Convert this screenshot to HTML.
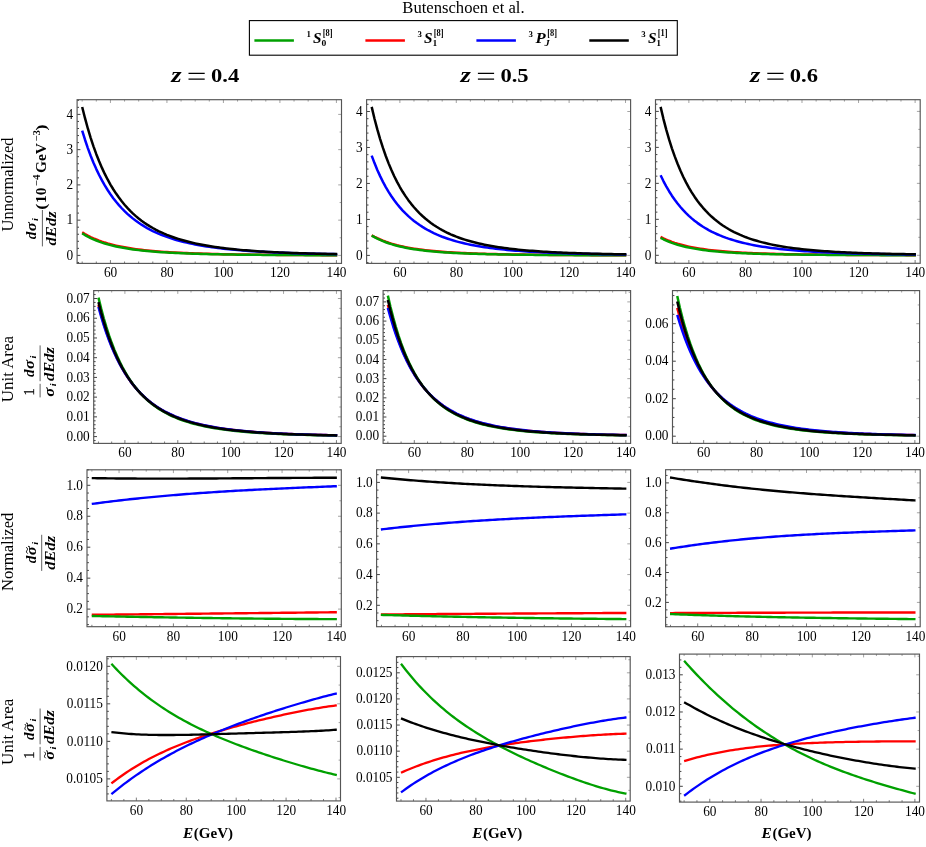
<!DOCTYPE html>
<html><head><meta charset="utf-8"><title>chart</title>
<style>html,body{margin:0;padding:0;background:#fff}svg{display:block;will-change:transform}text{font-family:"Liberation Serif", serif;fill:#000}</style></head><body>
<svg width="926" height="847" viewBox="0 0 926 847">
<rect width="926" height="847" fill="#fff"/>
<g><path d="M82.18 232.27 L85.01 234.00 L87.83 235.57 L90.66 237.01 L93.48 238.32 L96.31 239.52 L99.13 240.62 L101.96 241.64 L104.78 242.57 L107.61 243.43 L110.43 244.21 L113.26 244.94 L116.08 245.62 L118.91 246.24 L121.73 246.81 L124.56 247.35 L127.38 247.84 L130.21 248.30 L133.03 248.73 L135.86 249.13 L138.68 249.50 L141.51 249.84 L144.33 250.16 L147.15 250.46 L149.98 250.74 L152.80 251.00 L155.63 251.24 L158.45 251.47 L161.28 251.69 L164.10 251.89 L166.93 252.08 L169.75 252.25 L172.58 252.42 L175.40 252.57 L178.23 252.72 L181.05 252.86 L183.88 252.99 L186.70 253.11 L189.53 253.22 L192.35 253.33 L195.18 253.43 L198.00 253.53 L200.83 253.62 L203.65 253.71 L206.48 253.79 L209.30 253.87 L212.12 253.94 L214.95 254.01 L217.77 254.07 L220.60 254.13 L223.42 254.19 L226.25 254.25 L229.07 254.30 L231.90 254.35 L234.72 254.40 L237.55 254.44 L240.37 254.48 L243.20 254.52 L246.02 254.56 L248.85 254.60 L251.67 254.63 L254.50 254.67 L257.32 254.70 L260.15 254.73 L262.97 254.76 L265.80 254.78 L268.62 254.81 L271.45 254.83 L274.27 254.86 L277.09 254.88 L279.92 254.90 L282.74 254.92 L285.57 254.94 L288.39 254.96 L291.22 254.98 L294.04 254.99 L296.87 255.01 L299.69 255.03 L302.52 255.04 L305.34 255.06 L308.17 255.07 L310.99 255.08 L313.82 255.09 L316.64 255.11 L319.47 255.12 L322.29 255.13 L325.12 255.14 L327.94 255.15 L330.77 255.16 L333.59 255.17 L336.42 255.18 L337.22 255.18" fill="none" stroke="#ff0000" stroke-width="2.5" stroke-linecap="butt" stroke-linejoin="round"/><path d="M82.18 233.34 L85.01 235.05 L87.83 236.61 L90.66 238.04 L93.48 239.33 L96.31 240.51 L99.13 241.59 L101.96 242.58 L104.78 243.49 L107.61 244.32 L110.43 245.09 L113.26 245.79 L116.08 246.44 L118.91 247.04 L121.73 247.59 L124.56 248.10 L127.38 248.57 L130.21 249.01 L133.03 249.41 L135.86 249.79 L138.68 250.13 L141.51 250.46 L144.33 250.76 L147.15 251.03 L149.98 251.29 L152.80 251.54 L155.63 251.76 L158.45 251.97 L161.28 252.17 L164.10 252.35 L166.93 252.53 L169.75 252.69 L172.58 252.84 L175.40 252.98 L178.23 253.11 L181.05 253.23 L183.88 253.35 L186.70 253.46 L189.53 253.56 L192.35 253.66 L195.18 253.75 L198.00 253.84 L200.83 253.92 L203.65 253.99 L206.48 254.06 L209.30 254.13 L212.12 254.19 L214.95 254.25 L217.77 254.31 L220.60 254.36 L223.42 254.41 L226.25 254.46 L229.07 254.51 L231.90 254.55 L234.72 254.59 L237.55 254.63 L240.37 254.66 L243.20 254.70 L246.02 254.73 L248.85 254.76 L251.67 254.79 L254.50 254.82 L257.32 254.84 L260.15 254.87 L262.97 254.89 L265.80 254.92 L268.62 254.94 L271.45 254.96 L274.27 254.98 L277.09 254.99 L279.92 255.01 L282.74 255.03 L285.57 255.04 L288.39 255.06 L291.22 255.07 L294.04 255.09 L296.87 255.10 L299.69 255.11 L302.52 255.12 L305.34 255.14 L308.17 255.15 L310.99 255.16 L313.82 255.17 L316.64 255.18 L319.47 255.19 L322.29 255.19 L325.12 255.20 L327.94 255.21 L330.77 255.22 L333.59 255.22 L336.42 255.23 L337.22 255.23" fill="none" stroke="#00a000" stroke-width="2.5" stroke-linecap="butt" stroke-linejoin="round"/><path d="M82.18 130.60 L85.01 139.73 L87.83 148.08 L90.66 155.71 L93.48 162.70 L96.31 169.11 L99.13 175.00 L101.96 180.41 L104.78 185.40 L107.61 189.99 L110.43 194.24 L113.26 198.16 L116.08 201.78 L118.91 205.14 L121.73 208.25 L124.56 211.14 L127.38 213.82 L130.21 216.31 L133.03 218.63 L135.86 220.79 L138.68 222.80 L141.51 224.68 L144.33 226.43 L147.15 228.07 L149.98 229.60 L152.80 231.03 L155.63 232.37 L158.45 233.62 L161.28 234.80 L164.10 235.90 L166.93 236.94 L169.75 237.91 L172.58 238.82 L175.40 239.68 L178.23 240.49 L181.05 241.25 L183.88 241.97 L186.70 242.64 L189.53 243.28 L192.35 243.88 L195.18 244.45 L198.00 244.98 L200.83 245.49 L203.65 245.97 L206.48 246.42 L209.30 246.84 L212.12 247.25 L214.95 247.63 L217.77 247.99 L220.60 248.34 L223.42 248.66 L226.25 248.97 L229.07 249.26 L231.90 249.54 L234.72 249.80 L237.55 250.05 L240.37 250.29 L243.20 250.52 L246.02 250.73 L248.85 250.94 L251.67 251.13 L254.50 251.31 L257.32 251.49 L260.15 251.66 L262.97 251.82 L265.80 251.97 L268.62 252.11 L271.45 252.25 L274.27 252.38 L277.09 252.51 L279.92 252.63 L282.74 252.74 L285.57 252.85 L288.39 252.95 L291.22 253.05 L294.04 253.15 L296.87 253.24 L299.69 253.32 L302.52 253.41 L305.34 253.49 L308.17 253.56 L310.99 253.63 L313.82 253.70 L316.64 253.77 L319.47 253.83 L322.29 253.89 L325.12 253.95 L327.94 254.01 L330.77 254.06 L333.59 254.11 L336.42 254.16 L337.22 254.17" fill="none" stroke="#0000ff" stroke-width="2.5" stroke-linecap="butt" stroke-linejoin="round"/><path d="M82.18 106.93 L85.01 118.20 L87.83 128.46 L90.66 137.82 L93.48 146.36 L96.31 154.18 L99.13 161.33 L101.96 167.90 L104.78 173.92 L107.61 179.46 L110.43 184.56 L113.26 189.26 L116.08 193.59 L118.91 197.59 L121.73 201.29 L124.56 204.72 L127.38 207.89 L130.21 210.83 L133.03 213.56 L135.86 216.09 L138.68 218.45 L141.51 220.64 L144.33 222.69 L147.15 224.59 L149.98 226.37 L152.80 228.02 L155.63 229.57 L158.45 231.02 L161.28 232.37 L164.10 233.64 L166.93 234.83 L169.75 235.94 L172.58 236.99 L175.40 237.97 L178.23 238.89 L181.05 239.75 L183.88 240.56 L186.70 241.33 L189.53 242.05 L192.35 242.72 L195.18 243.36 L198.00 243.96 L200.83 244.53 L203.65 245.07 L206.48 245.57 L209.30 246.05 L212.12 246.50 L214.95 246.93 L217.77 247.33 L220.60 247.71 L223.42 248.08 L226.25 248.42 L229.07 248.74 L231.90 249.05 L234.72 249.34 L237.55 249.62 L240.37 249.88 L243.20 250.13 L246.02 250.36 L248.85 250.59 L251.67 250.80 L254.50 251.00 L257.32 251.19 L260.15 251.38 L262.97 251.55 L265.80 251.72 L268.62 251.88 L271.45 252.03 L274.27 252.17 L277.09 252.31 L279.92 252.44 L282.74 252.56 L285.57 252.68 L288.39 252.79 L291.22 252.90 L294.04 253.00 L296.87 253.10 L299.69 253.19 L302.52 253.28 L305.34 253.37 L308.17 253.45 L310.99 253.53 L313.82 253.60 L316.64 253.67 L319.47 253.74 L322.29 253.81 L325.12 253.87 L327.94 253.93 L330.77 253.98 L333.59 254.04 L336.42 254.09 L337.22 254.11" fill="none" stroke="#000000" stroke-width="2.5" stroke-linecap="butt" stroke-linejoin="round"/><path d="M77.10 262.45h1.9M77.10 255.40h3.3M77.10 248.35h1.9M77.10 241.30h1.9M77.10 234.25h1.9M77.10 227.20h1.9M77.10 220.15h3.3M77.10 213.10h1.9M77.10 206.05h1.9M77.10 199.00h1.9M77.10 191.95h1.9M77.10 184.90h3.3M77.10 177.85h1.9M77.10 170.80h1.9M77.10 163.75h1.9M77.10 156.70h1.9M77.10 149.65h3.3M77.10 142.60h1.9M77.10 135.55h1.9M77.10 128.50h1.9M77.10 121.45h1.9M77.10 114.40h3.3M77.10 107.35h1.9M77.10 100.30h1.9" stroke="#111" stroke-width="0.8" fill="none"/><path d="M82.18 263.40v-1.9M96.31 263.40v-1.9M110.43 263.40v-3.3M124.56 263.40v-1.9M138.68 263.40v-1.9M152.80 263.40v-1.9M166.93 263.40v-3.3M181.05 263.40v-1.9M195.18 263.40v-1.9M209.30 263.40v-1.9M223.42 263.40v-3.3M237.55 263.40v-1.9M251.67 263.40v-1.9M265.80 263.40v-1.9M279.92 263.40v-3.3M294.04 263.40v-1.9M308.17 263.40v-1.9M322.29 263.40v-1.9M336.42 263.40v-3.3" stroke="#444" stroke-width="0.7" fill="none"/><path d="M341.50 255.40h-3.3M341.50 237.78h-1.9M341.50 220.15h-3.3M341.50 202.53h-1.9M341.50 184.90h-3.3M341.50 167.28h-1.9M341.50 149.65h-3.3M341.50 132.03h-1.9M341.50 114.40h-3.3M82.18 99.70v1.9M96.31 99.70v1.9M110.43 99.70v3.3M124.56 99.70v1.9M138.68 99.70v1.9M152.80 99.70v1.9M166.93 99.70v3.3M181.05 99.70v1.9M195.18 99.70v1.9M209.30 99.70v1.9M223.42 99.70v3.3M237.55 99.70v1.9M251.67 99.70v1.9M265.80 99.70v1.9M279.92 99.70v3.3M294.04 99.70v1.9M308.17 99.70v1.9M322.29 99.70v1.9M336.42 99.70v3.3" stroke="#666" stroke-width="0.6" fill="none"/><rect x="77.10" y="99.70" width="264.40" height="163.70" fill="none" stroke="#555555" stroke-width="1.15"/><text transform="translate(73.10 259.60) scale(0.887 1)" font-size="15" text-anchor="end">0</text><text transform="translate(73.10 224.35) scale(0.887 1)" font-size="15" text-anchor="end">1</text><text transform="translate(73.10 189.10) scale(0.887 1)" font-size="15" text-anchor="end">2</text><text transform="translate(73.10 153.85) scale(0.887 1)" font-size="15" text-anchor="end">3</text><text transform="translate(73.10 118.60) scale(0.887 1)" font-size="15" text-anchor="end">4</text><text transform="translate(110.53 277.20) scale(0.887 1)" font-size="15" text-anchor="middle">60</text><text transform="translate(167.03 277.20) scale(0.887 1)" font-size="15" text-anchor="middle">80</text><text transform="translate(223.52 277.20) scale(0.887 1)" font-size="15" text-anchor="middle">100</text><text transform="translate(280.02 277.20) scale(0.887 1)" font-size="15" text-anchor="middle">120</text><text transform="translate(336.52 277.20) scale(0.887 1)" font-size="15" text-anchor="middle">140</text></g>
<g><path d="M371.68 235.25 L374.50 236.80 L377.32 238.21 L380.14 239.50 L382.96 240.67 L385.78 241.73 L388.60 242.71 L391.42 243.61 L394.24 244.43 L397.06 245.19 L399.88 245.88 L402.70 246.52 L405.52 247.11 L408.34 247.65 L411.16 248.15 L413.98 248.62 L416.81 249.05 L419.63 249.44 L422.45 249.81 L425.27 250.16 L428.09 250.47 L430.91 250.77 L433.73 251.05 L436.55 251.30 L439.37 251.54 L442.19 251.76 L445.01 251.97 L447.83 252.17 L450.65 252.35 L453.47 252.52 L456.29 252.68 L459.11 252.83 L461.93 252.97 L464.75 253.10 L467.57 253.22 L470.39 253.34 L473.22 253.44 L476.04 253.55 L478.86 253.64 L481.68 253.73 L484.50 253.82 L487.32 253.90 L490.14 253.97 L492.96 254.04 L495.78 254.11 L498.60 254.17 L501.42 254.23 L504.24 254.29 L507.06 254.34 L509.88 254.39 L512.70 254.44 L515.52 254.49 L518.34 254.53 L521.16 254.57 L523.98 254.61 L526.81 254.65 L529.63 254.68 L532.45 254.71 L535.27 254.74 L538.09 254.77 L540.91 254.80 L543.73 254.83 L546.55 254.85 L549.37 254.88 L552.19 254.90 L555.01 254.92 L557.83 254.94 L560.65 254.96 L563.47 254.98 L566.29 255.00 L569.11 255.02 L571.93 255.03 L574.75 255.05 L577.57 255.06 L580.39 255.08 L583.22 255.09 L586.04 255.10 L588.86 255.12 L591.68 255.13 L594.50 255.14 L597.32 255.15 L600.14 255.16 L602.96 255.17 L605.78 255.18 L608.60 255.19 L611.42 255.20 L614.24 255.20 L617.06 255.21 L619.88 255.22 L622.70 255.23 L625.52 255.23 L626.32 255.23" fill="none" stroke="#ff0000" stroke-width="2.5" stroke-linecap="butt" stroke-linejoin="round"/><path d="M371.68 235.56 L374.50 237.18 L377.32 238.64 L380.14 239.96 L382.96 241.17 L385.78 242.26 L388.60 243.26 L391.42 244.17 L394.24 245.00 L397.06 245.76 L399.88 246.45 L402.70 247.09 L405.52 247.68 L408.34 248.21 L411.16 248.71 L413.98 249.16 L416.81 249.58 L419.63 249.97 L422.45 250.33 L425.27 250.66 L428.09 250.97 L430.91 251.25 L433.73 251.51 L436.55 251.76 L439.37 251.98 L442.19 252.19 L445.01 252.39 L447.83 252.57 L450.65 252.74 L453.47 252.90 L456.29 253.04 L459.11 253.18 L461.93 253.31 L464.75 253.43 L467.57 253.54 L470.39 253.64 L473.22 253.74 L476.04 253.83 L478.86 253.92 L481.68 254.00 L484.50 254.08 L487.32 254.15 L490.14 254.22 L492.96 254.28 L495.78 254.34 L498.60 254.39 L501.42 254.44 L504.24 254.49 L507.06 254.54 L509.88 254.58 L512.70 254.63 L515.52 254.66 L518.34 254.70 L521.16 254.74 L523.98 254.77 L526.81 254.80 L529.63 254.83 L532.45 254.86 L535.27 254.88 L538.09 254.91 L540.91 254.93 L543.73 254.95 L546.55 254.97 L549.37 254.99 L552.19 255.01 L555.01 255.03 L557.83 255.05 L560.65 255.06 L563.47 255.08 L566.29 255.09 L569.11 255.11 L571.93 255.12 L574.75 255.13 L577.57 255.14 L580.39 255.15 L583.22 255.17 L586.04 255.18 L588.86 255.19 L591.68 255.19 L594.50 255.20 L597.32 255.21 L600.14 255.22 L602.96 255.23 L605.78 255.23 L608.60 255.24 L611.42 255.25 L614.24 255.25 L617.06 255.26 L619.88 255.27 L622.70 255.27 L625.52 255.28 L626.32 255.28" fill="none" stroke="#00a000" stroke-width="2.5" stroke-linecap="butt" stroke-linejoin="round"/><path d="M371.68 155.59 L374.50 163.08 L377.32 169.91 L380.14 176.14 L382.96 181.84 L385.78 187.06 L388.60 191.84 L391.42 196.23 L394.24 200.26 L397.06 203.97 L399.88 207.39 L402.70 210.55 L405.52 213.46 L408.34 216.15 L411.16 218.64 L413.98 220.95 L416.81 223.09 L419.63 225.07 L422.45 226.92 L425.27 228.63 L428.09 230.22 L430.91 231.71 L433.73 233.09 L436.55 234.39 L439.37 235.59 L442.19 236.72 L445.01 237.77 L447.83 238.75 L450.65 239.67 L453.47 240.54 L456.29 241.34 L459.11 242.10 L461.93 242.81 L464.75 243.48 L467.57 244.11 L470.39 244.70 L473.22 245.26 L476.04 245.78 L478.86 246.27 L481.68 246.73 L484.50 247.17 L487.32 247.58 L490.14 247.97 L492.96 248.34 L495.78 248.68 L498.60 249.01 L501.42 249.32 L504.24 249.61 L507.06 249.89 L509.88 250.15 L512.70 250.40 L515.52 250.63 L518.34 250.85 L521.16 251.06 L523.98 251.26 L526.81 251.45 L529.63 251.63 L532.45 251.80 L535.27 251.96 L538.09 252.12 L540.91 252.26 L543.73 252.40 L546.55 252.53 L549.37 252.66 L552.19 252.78 L555.01 252.89 L557.83 253.00 L560.65 253.10 L563.47 253.20 L566.29 253.30 L569.11 253.38 L571.93 253.47 L574.75 253.55 L577.57 253.63 L580.39 253.70 L583.22 253.77 L586.04 253.84 L588.86 253.90 L591.68 253.96 L594.50 254.02 L597.32 254.08 L600.14 254.13 L602.96 254.18 L605.78 254.23 L608.60 254.27 L611.42 254.32 L614.24 254.36 L617.06 254.40 L619.88 254.44 L622.70 254.48 L625.52 254.51 L626.32 254.52" fill="none" stroke="#0000ff" stroke-width="2.5" stroke-linecap="butt" stroke-linejoin="round"/><path d="M371.68 106.91 L374.50 118.70 L377.32 129.40 L380.14 139.12 L382.96 147.96 L385.78 156.02 L388.60 163.37 L391.42 170.08 L394.24 176.23 L397.06 181.86 L399.88 187.02 L402.70 191.77 L405.52 196.13 L408.34 200.14 L411.16 203.84 L413.98 207.25 L416.81 210.40 L419.63 213.31 L422.45 216.01 L425.27 218.50 L428.09 220.82 L430.91 222.96 L433.73 224.95 L436.55 226.80 L439.37 228.53 L442.19 230.13 L445.01 231.62 L447.83 233.01 L450.65 234.31 L453.47 235.52 L456.29 236.66 L459.11 237.71 L461.93 238.70 L464.75 239.63 L467.57 240.50 L470.39 241.31 L473.22 242.07 L476.04 242.79 L478.86 243.46 L481.68 244.09 L484.50 244.69 L487.32 245.24 L490.14 245.77 L492.96 246.26 L495.78 246.73 L498.60 247.17 L501.42 247.58 L504.24 247.97 L507.06 248.34 L509.88 248.69 L512.70 249.01 L515.52 249.32 L518.34 249.62 L521.16 249.89 L523.98 250.16 L526.81 250.40 L529.63 250.64 L532.45 250.86 L535.27 251.07 L538.09 251.27 L540.91 251.46 L543.73 251.64 L546.55 251.81 L549.37 251.97 L552.19 252.13 L555.01 252.27 L557.83 252.41 L560.65 252.54 L563.47 252.67 L566.29 252.79 L569.11 252.90 L571.93 253.01 L574.75 253.11 L577.57 253.21 L580.39 253.30 L583.22 253.39 L586.04 253.48 L588.86 253.56 L591.68 253.64 L594.50 253.71 L597.32 253.78 L600.14 253.85 L602.96 253.91 L605.78 253.97 L608.60 254.03 L611.42 254.08 L614.24 254.14 L617.06 254.19 L619.88 254.24 L622.70 254.28 L625.52 254.33 L626.32 254.34" fill="none" stroke="#000000" stroke-width="2.5" stroke-linecap="butt" stroke-linejoin="round"/><path d="M366.60 262.60h1.9M366.60 255.40h3.3M366.60 248.21h1.9M366.60 241.01h1.9M366.60 233.81h1.9M366.60 226.62h1.9M366.60 219.43h3.3M366.60 212.23h1.9M366.60 205.03h1.9M366.60 197.84h1.9M366.60 190.64h1.9M366.60 183.45h3.3M366.60 176.25h1.9M366.60 169.06h1.9M366.60 161.87h1.9M366.60 154.67h1.9M366.60 147.47h3.3M366.60 140.28h1.9M366.60 133.08h1.9M366.60 125.89h1.9M366.60 118.69h1.9M366.60 111.50h3.3M366.60 104.31h1.9" stroke="#111" stroke-width="0.8" fill="none"/><path d="M371.68 263.40v-1.9M385.78 263.40v-1.9M399.88 263.40v-3.3M413.98 263.40v-1.9M428.09 263.40v-1.9M442.19 263.40v-1.9M456.29 263.40v-3.3M470.39 263.40v-1.9M484.50 263.40v-1.9M498.60 263.40v-1.9M512.70 263.40v-3.3M526.81 263.40v-1.9M540.91 263.40v-1.9M555.01 263.40v-1.9M569.11 263.40v-3.3M583.22 263.40v-1.9M597.32 263.40v-1.9M611.42 263.40v-1.9M625.52 263.40v-3.3" stroke="#444" stroke-width="0.7" fill="none"/><path d="M630.60 255.40h-3.3M630.60 237.41h-1.9M630.60 219.43h-3.3M630.60 201.44h-1.9M630.60 183.45h-3.3M630.60 165.46h-1.9M630.60 147.47h-3.3M630.60 129.49h-1.9M630.60 111.50h-3.3M371.68 99.70v1.9M385.78 99.70v1.9M399.88 99.70v3.3M413.98 99.70v1.9M428.09 99.70v1.9M442.19 99.70v1.9M456.29 99.70v3.3M470.39 99.70v1.9M484.50 99.70v1.9M498.60 99.70v1.9M512.70 99.70v3.3M526.81 99.70v1.9M540.91 99.70v1.9M555.01 99.70v1.9M569.11 99.70v3.3M583.22 99.70v1.9M597.32 99.70v1.9M611.42 99.70v1.9M625.52 99.70v3.3" stroke="#666" stroke-width="0.6" fill="none"/><rect x="366.60" y="99.70" width="264.00" height="163.70" fill="none" stroke="#555555" stroke-width="1.15"/><text transform="translate(362.60 259.60) scale(0.887 1)" font-size="15" text-anchor="end">0</text><text transform="translate(362.60 223.62) scale(0.887 1)" font-size="15" text-anchor="end">1</text><text transform="translate(362.60 187.65) scale(0.887 1)" font-size="15" text-anchor="end">2</text><text transform="translate(362.60 151.67) scale(0.887 1)" font-size="15" text-anchor="end">3</text><text transform="translate(362.60 115.70) scale(0.887 1)" font-size="15" text-anchor="end">4</text><text transform="translate(399.98 277.20) scale(0.887 1)" font-size="15" text-anchor="middle">60</text><text transform="translate(456.39 277.20) scale(0.887 1)" font-size="15" text-anchor="middle">80</text><text transform="translate(512.80 277.20) scale(0.887 1)" font-size="15" text-anchor="middle">100</text><text transform="translate(569.21 277.20) scale(0.887 1)" font-size="15" text-anchor="middle">120</text><text transform="translate(625.62 277.20) scale(0.887 1)" font-size="15" text-anchor="middle">140</text></g>
<g><path d="M660.59 236.91 L663.42 238.32 L666.25 239.61 L669.07 240.78 L671.90 241.85 L674.73 242.83 L677.56 243.72 L680.39 244.54 L683.21 245.29 L686.04 245.98 L688.87 246.61 L691.70 247.20 L694.53 247.73 L697.35 248.23 L700.18 248.69 L703.01 249.11 L705.84 249.51 L708.67 249.87 L711.49 250.21 L714.32 250.52 L717.15 250.81 L719.98 251.08 L722.81 251.33 L725.63 251.57 L728.46 251.78 L731.29 251.99 L734.12 252.18 L736.95 252.35 L739.77 252.52 L742.60 252.68 L745.43 252.82 L748.26 252.96 L751.09 253.08 L753.91 253.20 L756.74 253.32 L759.57 253.42 L762.40 253.52 L765.23 253.61 L768.05 253.70 L770.88 253.78 L773.71 253.86 L776.54 253.93 L779.37 254.00 L782.19 254.07 L785.02 254.13 L787.85 254.19 L790.68 254.24 L793.51 254.29 L796.33 254.34 L799.16 254.39 L801.99 254.43 L804.82 254.47 L807.65 254.51 L810.47 254.55 L813.30 254.58 L816.13 254.62 L818.96 254.65 L821.79 254.68 L824.61 254.71 L827.44 254.73 L830.27 254.76 L833.10 254.78 L835.93 254.81 L838.75 254.83 L841.58 254.85 L844.41 254.87 L847.24 254.89 L850.07 254.91 L852.89 254.92 L855.72 254.94 L858.55 254.95 L861.38 254.97 L864.21 254.98 L867.03 255.00 L869.86 255.01 L872.69 255.02 L875.52 255.03 L878.35 255.04 L881.17 255.05 L884.00 255.06 L886.83 255.07 L889.66 255.08 L892.49 255.09 L895.31 255.10 L898.14 255.11 L900.97 255.12 L903.80 255.12 L906.63 255.13 L909.45 255.14 L912.28 255.14 L915.11 255.15 L915.91 255.15" fill="none" stroke="#ff0000" stroke-width="2.5" stroke-linecap="butt" stroke-linejoin="round"/><path d="M660.59 237.80 L663.42 239.26 L666.25 240.57 L669.07 241.76 L671.90 242.83 L674.73 243.81 L677.56 244.70 L680.39 245.51 L683.21 246.25 L686.04 246.92 L688.87 247.54 L691.70 248.11 L694.53 248.62 L697.35 249.10 L700.18 249.53 L703.01 249.93 L705.84 250.30 L708.67 250.64 L711.49 250.95 L714.32 251.24 L717.15 251.51 L719.98 251.75 L722.81 251.98 L725.63 252.19 L728.46 252.39 L731.29 252.57 L734.12 252.74 L736.95 252.90 L739.77 253.04 L742.60 253.18 L745.43 253.31 L748.26 253.43 L751.09 253.54 L753.91 253.64 L756.74 253.73 L759.57 253.82 L762.40 253.91 L765.23 253.99 L768.05 254.06 L770.88 254.13 L773.71 254.19 L776.54 254.25 L779.37 254.31 L782.19 254.36 L785.02 254.41 L787.85 254.46 L790.68 254.50 L793.51 254.54 L796.33 254.58 L799.16 254.62 L801.99 254.66 L804.82 254.69 L807.65 254.72 L810.47 254.75 L813.30 254.78 L816.13 254.80 L818.96 254.83 L821.79 254.85 L824.61 254.87 L827.44 254.89 L830.27 254.91 L833.10 254.93 L835.93 254.95 L838.75 254.96 L841.58 254.98 L844.41 254.99 L847.24 255.01 L850.07 255.02 L852.89 255.03 L855.72 255.05 L858.55 255.06 L861.38 255.07 L864.21 255.08 L867.03 255.09 L869.86 255.10 L872.69 255.11 L875.52 255.12 L878.35 255.12 L881.17 255.13 L884.00 255.14 L886.83 255.15 L889.66 255.15 L892.49 255.16 L895.31 255.17 L898.14 255.17 L900.97 255.18 L903.80 255.18 L906.63 255.19 L909.45 255.19 L912.28 255.20 L915.11 255.20 L915.91 255.20" fill="none" stroke="#00a000" stroke-width="2.5" stroke-linecap="butt" stroke-linejoin="round"/><path d="M660.59 175.23 L663.42 181.04 L666.25 186.35 L669.07 191.22 L671.90 195.68 L674.73 199.77 L677.56 203.54 L680.39 207.00 L683.21 210.19 L686.04 213.14 L688.87 215.86 L691.70 218.38 L694.53 220.71 L697.35 222.86 L700.18 224.87 L703.01 226.72 L705.84 228.45 L708.67 230.06 L711.49 231.55 L714.32 232.95 L717.15 234.24 L719.98 235.46 L722.81 236.59 L725.63 237.65 L728.46 238.64 L731.29 239.56 L734.12 240.43 L736.95 241.24 L739.77 242.00 L742.60 242.72 L745.43 243.39 L748.26 244.02 L751.09 244.61 L753.91 245.17 L756.74 245.69 L759.57 246.18 L762.40 246.65 L765.23 247.08 L768.05 247.50 L770.88 247.89 L773.71 248.25 L776.54 248.60 L779.37 248.93 L782.19 249.24 L785.02 249.53 L787.85 249.81 L790.68 250.07 L793.51 250.32 L796.33 250.55 L799.16 250.77 L801.99 250.99 L804.82 251.18 L807.65 251.37 L810.47 251.55 L813.30 251.72 L816.13 251.89 L818.96 252.04 L821.79 252.19 L824.61 252.32 L827.44 252.46 L830.27 252.58 L833.10 252.70 L835.93 252.81 L838.75 252.92 L841.58 253.02 L844.41 253.12 L847.24 253.22 L850.07 253.30 L852.89 253.39 L855.72 253.47 L858.55 253.55 L861.38 253.62 L864.21 253.69 L867.03 253.76 L869.86 253.82 L872.69 253.88 L875.52 253.94 L878.35 253.99 L881.17 254.05 L884.00 254.10 L886.83 254.14 L889.66 254.19 L892.49 254.23 L895.31 254.28 L898.14 254.32 L900.97 254.36 L903.80 254.39 L906.63 254.43 L909.45 254.46 L912.28 254.49 L915.11 254.53 L915.91 254.53" fill="none" stroke="#0000ff" stroke-width="2.5" stroke-linecap="butt" stroke-linejoin="round"/><path d="M660.59 106.90 L663.42 118.81 L666.25 129.61 L669.07 139.40 L671.90 148.31 L674.73 156.42 L677.56 163.81 L680.39 170.56 L683.21 176.74 L686.04 182.39 L688.87 187.57 L691.70 192.32 L694.53 196.69 L697.35 200.70 L700.18 204.40 L703.01 207.81 L705.84 210.95 L708.67 213.86 L711.49 216.54 L714.32 219.03 L717.15 221.33 L719.98 223.46 L722.81 225.44 L725.63 227.28 L728.46 228.99 L731.29 230.58 L734.12 232.06 L736.95 233.43 L739.77 234.72 L742.60 235.92 L745.43 237.04 L748.26 238.08 L751.09 239.06 L753.91 239.97 L756.74 240.82 L759.57 241.62 L762.40 242.37 L765.23 243.08 L768.05 243.74 L770.88 244.36 L773.71 244.94 L776.54 245.49 L779.37 246.00 L782.19 246.48 L785.02 246.94 L787.85 247.37 L790.68 247.77 L793.51 248.15 L796.33 248.51 L799.16 248.85 L801.99 249.17 L804.82 249.47 L807.65 249.75 L810.47 250.02 L813.30 250.28 L816.13 250.52 L818.96 250.75 L821.79 250.96 L824.61 251.17 L827.44 251.36 L830.27 251.54 L833.10 251.72 L835.93 251.88 L838.75 252.04 L841.58 252.19 L844.41 252.33 L847.24 252.46 L850.07 252.59 L852.89 252.71 L855.72 252.82 L858.55 252.93 L861.38 253.04 L864.21 253.14 L867.03 253.23 L869.86 253.32 L872.69 253.40 L875.52 253.49 L878.35 253.56 L881.17 253.64 L884.00 253.71 L886.83 253.77 L889.66 253.84 L892.49 253.90 L895.31 253.96 L898.14 254.01 L900.97 254.07 L903.80 254.12 L906.63 254.16 L909.45 254.21 L912.28 254.25 L915.11 254.30 L915.91 254.31" fill="none" stroke="#000000" stroke-width="2.5" stroke-linecap="butt" stroke-linejoin="round"/><path d="M655.50 262.50h1.9M655.50 255.30h3.3M655.50 248.11h1.9M655.50 240.91h1.9M655.50 233.72h1.9M655.50 226.52h1.9M655.50 219.33h3.3M655.50 212.13h1.9M655.50 204.94h1.9M655.50 197.74h1.9M655.50 190.55h1.9M655.50 183.35h3.3M655.50 176.16h1.9M655.50 168.96h1.9M655.50 161.76h1.9M655.50 154.57h1.9M655.50 147.38h3.3M655.50 140.18h1.9M655.50 132.99h1.9M655.50 125.79h1.9M655.50 118.59h1.9M655.50 111.40h3.3M655.50 104.21h1.9" stroke="#111" stroke-width="0.8" fill="none"/><path d="M660.59 263.30v-1.9M674.73 263.30v-1.9M688.87 263.30v-3.3M703.01 263.30v-1.9M717.15 263.30v-1.9M731.29 263.30v-1.9M745.43 263.30v-3.3M759.57 263.30v-1.9M773.71 263.30v-1.9M787.85 263.30v-1.9M801.99 263.30v-3.3M816.13 263.30v-1.9M830.27 263.30v-1.9M844.41 263.30v-1.9M858.55 263.30v-3.3M872.69 263.30v-1.9M886.83 263.30v-1.9M900.97 263.30v-1.9M915.11 263.30v-3.3" stroke="#444" stroke-width="0.7" fill="none"/><path d="M920.20 255.30h-3.3M920.20 237.31h-1.9M920.20 219.33h-3.3M920.20 201.34h-1.9M920.20 183.35h-3.3M920.20 165.36h-1.9M920.20 147.38h-3.3M920.20 129.39h-1.9M920.20 111.40h-3.3M660.59 99.70v1.9M674.73 99.70v1.9M688.87 99.70v3.3M703.01 99.70v1.9M717.15 99.70v1.9M731.29 99.70v1.9M745.43 99.70v3.3M759.57 99.70v1.9M773.71 99.70v1.9M787.85 99.70v1.9M801.99 99.70v3.3M816.13 99.70v1.9M830.27 99.70v1.9M844.41 99.70v1.9M858.55 99.70v3.3M872.69 99.70v1.9M886.83 99.70v1.9M900.97 99.70v1.9M915.11 99.70v3.3" stroke="#666" stroke-width="0.6" fill="none"/><rect x="655.50" y="99.70" width="264.70" height="163.60" fill="none" stroke="#555555" stroke-width="1.15"/><text transform="translate(651.50 259.50) scale(0.887 1)" font-size="15" text-anchor="end">0</text><text transform="translate(651.50 223.53) scale(0.887 1)" font-size="15" text-anchor="end">1</text><text transform="translate(651.50 187.55) scale(0.887 1)" font-size="15" text-anchor="end">2</text><text transform="translate(651.50 151.57) scale(0.887 1)" font-size="15" text-anchor="end">3</text><text transform="translate(651.50 115.60) scale(0.887 1)" font-size="15" text-anchor="end">4</text><text transform="translate(688.97 277.10) scale(0.887 1)" font-size="15" text-anchor="middle">60</text><text transform="translate(745.53 277.10) scale(0.887 1)" font-size="15" text-anchor="middle">80</text><text transform="translate(802.09 277.10) scale(0.887 1)" font-size="15" text-anchor="middle">100</text><text transform="translate(858.65 277.10) scale(0.887 1)" font-size="15" text-anchor="middle">120</text><text transform="translate(915.21 277.10) scale(0.887 1)" font-size="15" text-anchor="middle">140</text></g>
<g><path d="M98.46 304.86 L101.10 314.69 L103.75 323.65 L106.39 331.83 L109.04 339.31 L111.68 346.16 L114.33 352.45 L116.97 358.21 L119.61 363.52 L122.26 368.40 L124.90 372.89 L127.55 377.04 L130.19 380.88 L132.83 384.42 L135.48 387.70 L138.12 390.74 L140.77 393.56 L143.41 396.17 L146.06 398.60 L148.70 400.86 L151.34 402.97 L153.99 404.93 L156.63 406.76 L159.28 408.46 L161.92 410.05 L164.57 411.54 L167.21 412.93 L169.85 414.23 L172.50 415.45 L175.14 416.60 L177.79 417.67 L180.43 418.67 L183.07 419.62 L185.72 420.50 L188.36 421.34 L191.01 422.12 L193.65 422.86 L196.30 423.55 L198.94 424.21 L201.58 424.82 L204.23 425.41 L206.87 425.96 L209.52 426.47 L212.16 426.96 L214.81 427.43 L217.45 427.86 L220.09 428.28 L222.74 428.67 L225.38 429.04 L228.03 429.39 L230.67 429.72 L233.32 430.04 L235.96 430.34 L238.60 430.62 L241.25 430.89 L243.89 431.14 L246.54 431.38 L249.18 431.61 L251.83 431.83 L254.47 432.04 L257.11 432.24 L259.76 432.43 L262.40 432.61 L265.05 432.78 L267.69 432.94 L270.33 433.09 L272.98 433.24 L275.62 433.38 L278.27 433.51 L280.91 433.64 L283.56 433.76 L286.20 433.88 L288.84 433.99 L291.49 434.10 L294.13 434.20 L296.78 434.29 L299.42 434.38 L302.07 434.47 L304.71 434.56 L307.35 434.64 L310.00 434.71 L312.64 434.79 L315.29 434.86 L317.93 434.93 L320.58 434.99 L323.22 435.05 L325.86 435.11 L328.51 435.17 L331.15 435.22 L333.80 435.27 L336.44 435.32 L337.24 435.34" fill="none" stroke="#ff0000" stroke-width="2.5" stroke-linecap="butt" stroke-linejoin="round"/><path d="M98.46 297.59 L101.10 308.41 L103.75 318.24 L106.39 327.19 L109.04 335.35 L111.68 342.81 L114.33 349.62 L116.97 355.85 L119.61 361.57 L122.26 366.82 L124.90 371.64 L127.55 376.07 L130.19 380.15 L132.83 383.92 L135.48 387.39 L138.12 390.60 L140.77 393.57 L143.41 396.32 L146.06 398.86 L148.70 401.22 L151.34 403.41 L153.99 405.45 L156.63 407.34 L159.28 409.10 L161.92 410.73 L164.57 412.26 L167.21 413.68 L169.85 415.01 L172.50 416.25 L175.14 417.41 L177.79 418.49 L180.43 419.51 L183.07 420.45 L185.72 421.34 L188.36 422.18 L191.01 422.96 L193.65 423.69 L196.30 424.38 L198.94 425.03 L201.58 425.63 L204.23 426.21 L206.87 426.74 L209.52 427.25 L212.16 427.73 L214.81 428.18 L217.45 428.60 L220.09 429.00 L222.74 429.38 L225.38 429.73 L228.03 430.07 L230.67 430.38 L233.32 430.68 L235.96 430.97 L238.60 431.24 L241.25 431.49 L243.89 431.73 L246.54 431.96 L249.18 432.17 L251.83 432.38 L254.47 432.57 L257.11 432.76 L259.76 432.93 L262.40 433.10 L265.05 433.25 L267.69 433.40 L270.33 433.54 L272.98 433.68 L275.62 433.81 L278.27 433.93 L280.91 434.04 L283.56 434.16 L286.20 434.26 L288.84 434.36 L291.49 434.45 L294.13 434.55 L296.78 434.63 L299.42 434.71 L302.07 434.79 L304.71 434.87 L307.35 434.94 L310.00 435.01 L312.64 435.07 L315.29 435.13 L317.93 435.19 L320.58 435.25 L323.22 435.30 L325.86 435.35 L328.51 435.40 L331.15 435.45 L333.80 435.50 L336.44 435.54 L337.24 435.55" fill="none" stroke="#00a000" stroke-width="2.5" stroke-linecap="butt" stroke-linejoin="round"/><path d="M98.46 306.96 L101.10 316.45 L103.75 325.11 L106.39 333.04 L109.04 340.30 L111.68 346.96 L114.33 353.08 L116.97 358.70 L119.61 363.88 L122.26 368.66 L124.90 373.06 L127.55 377.14 L130.19 380.90 L132.83 384.39 L135.48 387.62 L138.12 390.62 L140.77 393.41 L143.41 396.00 L146.06 398.41 L148.70 400.65 L151.34 402.74 L153.99 404.69 L156.63 406.51 L159.28 408.21 L161.92 409.80 L164.57 411.28 L167.21 412.67 L169.85 413.98 L172.50 415.20 L175.14 416.35 L177.79 417.42 L180.43 418.43 L183.07 419.38 L185.72 420.27 L188.36 421.11 L191.01 421.90 L193.65 422.65 L196.30 423.35 L198.94 424.01 L201.58 424.63 L204.23 425.22 L206.87 425.78 L209.52 426.30 L212.16 426.80 L214.81 427.27 L217.45 427.71 L220.09 428.13 L222.74 428.53 L225.38 428.91 L228.03 429.26 L230.67 429.60 L233.32 429.92 L235.96 430.22 L238.60 430.51 L241.25 430.79 L243.89 431.05 L246.54 431.29 L249.18 431.53 L251.83 431.75 L254.47 431.96 L257.11 432.16 L259.76 432.36 L262.40 432.54 L265.05 432.71 L267.69 432.88 L270.33 433.04 L272.98 433.19 L275.62 433.33 L278.27 433.47 L280.91 433.60 L283.56 433.72 L286.20 433.84 L288.84 433.95 L291.49 434.06 L294.13 434.16 L296.78 434.26 L299.42 434.35 L302.07 434.44 L304.71 434.53 L307.35 434.61 L310.00 434.69 L312.64 434.77 L315.29 434.84 L317.93 434.91 L320.58 434.97 L323.22 435.03 L325.86 435.09 L328.51 435.15 L331.15 435.21 L333.80 435.26 L336.44 435.31 L337.24 435.33" fill="none" stroke="#0000ff" stroke-width="2.5" stroke-linecap="butt" stroke-linejoin="round"/><path d="M98.46 302.11 L101.10 312.32 L103.75 321.62 L106.39 330.09 L109.04 337.83 L111.68 344.91 L114.33 351.39 L116.97 357.34 L119.61 362.80 L122.26 367.81 L124.90 372.43 L127.55 376.69 L130.19 380.61 L132.83 384.24 L135.48 387.59 L138.12 390.69 L140.77 393.56 L143.41 396.23 L146.06 398.70 L148.70 401.00 L151.34 403.13 L153.99 405.12 L156.63 406.97 L159.28 408.69 L161.92 410.30 L164.57 411.80 L167.21 413.21 L169.85 414.52 L172.50 415.74 L175.14 416.89 L177.79 417.97 L180.43 418.98 L183.07 419.92 L185.72 420.81 L188.36 421.64 L191.01 422.42 L193.65 423.16 L196.30 423.85 L198.94 424.50 L201.58 425.12 L204.23 425.70 L206.87 426.24 L209.52 426.76 L212.16 427.24 L214.81 427.70 L217.45 428.13 L220.09 428.54 L222.74 428.93 L225.38 429.29 L228.03 429.64 L230.67 429.97 L233.32 430.28 L235.96 430.57 L238.60 430.85 L241.25 431.11 L243.89 431.36 L246.54 431.60 L249.18 431.82 L251.83 432.04 L254.47 432.24 L257.11 432.43 L259.76 432.62 L262.40 432.79 L265.05 432.96 L267.69 433.11 L270.33 433.26 L272.98 433.41 L275.62 433.54 L278.27 433.67 L280.91 433.80 L283.56 433.91 L286.20 434.03 L288.84 434.13 L291.49 434.24 L294.13 434.33 L296.78 434.43 L299.42 434.52 L302.07 434.60 L304.71 434.68 L307.35 434.76 L310.00 434.83 L312.64 434.90 L315.29 434.97 L317.93 435.03 L320.58 435.10 L323.22 435.16 L325.86 435.21 L328.51 435.27 L331.15 435.32 L333.80 435.37 L336.44 435.41 L337.24 435.43" fill="none" stroke="#000000" stroke-width="2.5" stroke-linecap="butt" stroke-linejoin="round"/><path d="M93.70 440.55h1.9M93.70 436.60h3.3M93.70 432.65h1.9M93.70 428.71h1.9M93.70 424.76h1.9M93.70 420.82h1.9M93.70 416.87h3.3M93.70 412.93h1.9M93.70 408.98h1.9M93.70 405.03h1.9M93.70 401.09h1.9M93.70 397.14h3.3M93.70 393.20h1.9M93.70 389.25h1.9M93.70 385.31h1.9M93.70 381.36h1.9M93.70 377.41h3.3M93.70 373.47h1.9M93.70 369.52h1.9M93.70 365.58h1.9M93.70 361.63h1.9M93.70 357.69h3.3M93.70 353.74h1.9M93.70 349.79h1.9M93.70 345.85h1.9M93.70 341.90h1.9M93.70 337.96h3.3M93.70 334.01h1.9M93.70 330.07h1.9M93.70 326.12h1.9M93.70 322.17h1.9M93.70 318.23h3.3M93.70 314.28h1.9M93.70 310.34h1.9M93.70 306.39h1.9M93.70 302.45h1.9M93.70 298.50h3.3M93.70 294.55h1.9M93.70 290.61h1.9" stroke="#111" stroke-width="0.8" fill="none"/><path d="M98.46 443.40v-1.9M111.68 443.40v-1.9M124.90 443.40v-3.3M138.12 443.40v-1.9M151.34 443.40v-1.9M164.57 443.40v-1.9M177.79 443.40v-3.3M191.01 443.40v-1.9M204.23 443.40v-1.9M217.45 443.40v-1.9M230.67 443.40v-3.3M243.89 443.40v-1.9M257.11 443.40v-1.9M270.33 443.40v-1.9M283.56 443.40v-3.3M296.78 443.40v-1.9M310.00 443.40v-1.9M323.22 443.40v-1.9M336.44 443.40v-3.3" stroke="#444" stroke-width="0.7" fill="none"/><path d="M341.20 436.60h-3.3M341.20 426.74h-1.9M341.20 416.87h-3.3M341.20 407.01h-1.9M341.20 397.14h-3.3M341.20 387.28h-1.9M341.20 377.41h-3.3M341.20 367.55h-1.9M341.20 357.69h-3.3M341.20 347.82h-1.9M341.20 337.96h-3.3M341.20 328.09h-1.9M341.20 318.23h-3.3M341.20 308.36h-1.9M341.20 298.50h-3.3M98.46 290.60v1.9M111.68 290.60v1.9M124.90 290.60v3.3M138.12 290.60v1.9M151.34 290.60v1.9M164.57 290.60v1.9M177.79 290.60v3.3M191.01 290.60v1.9M204.23 290.60v1.9M217.45 290.60v1.9M230.67 290.60v3.3M243.89 290.60v1.9M257.11 290.60v1.9M270.33 290.60v1.9M283.56 290.60v3.3M296.78 290.60v1.9M310.00 290.60v1.9M323.22 290.60v1.9M336.44 290.60v3.3" stroke="#666" stroke-width="0.6" fill="none"/><rect x="93.70" y="290.60" width="247.50" height="152.80" fill="none" stroke="#555555" stroke-width="1.15"/><text transform="translate(89.70 440.80) scale(0.887 1)" font-size="15" text-anchor="end">0.00</text><text transform="translate(89.70 421.07) scale(0.887 1)" font-size="15" text-anchor="end">0.01</text><text transform="translate(89.70 401.34) scale(0.887 1)" font-size="15" text-anchor="end">0.02</text><text transform="translate(89.70 381.61) scale(0.887 1)" font-size="15" text-anchor="end">0.03</text><text transform="translate(89.70 361.89) scale(0.887 1)" font-size="15" text-anchor="end">0.04</text><text transform="translate(89.70 342.16) scale(0.887 1)" font-size="15" text-anchor="end">0.05</text><text transform="translate(89.70 322.43) scale(0.887 1)" font-size="15" text-anchor="end">0.06</text><text transform="translate(89.70 302.70) scale(0.887 1)" font-size="15" text-anchor="end">0.07</text><text transform="translate(125.00 457.20) scale(0.887 1)" font-size="15" text-anchor="middle">60</text><text transform="translate(177.89 457.20) scale(0.887 1)" font-size="15" text-anchor="middle">80</text><text transform="translate(230.77 457.20) scale(0.887 1)" font-size="15" text-anchor="middle">100</text><text transform="translate(283.66 457.20) scale(0.887 1)" font-size="15" text-anchor="middle">120</text><text transform="translate(336.54 457.20) scale(0.887 1)" font-size="15" text-anchor="middle">140</text></g>
<g><path d="M387.86 304.88 L390.50 314.98 L393.15 324.16 L395.79 332.52 L398.44 340.15 L401.08 347.12 L403.73 353.50 L406.37 359.34 L409.01 364.70 L411.66 369.62 L414.30 374.14 L416.95 378.31 L419.59 382.15 L422.23 385.69 L424.88 388.96 L427.52 391.99 L430.17 394.79 L432.81 397.38 L435.46 399.79 L438.10 402.02 L440.74 404.09 L443.39 406.02 L446.03 407.82 L448.68 409.49 L451.32 411.05 L453.97 412.50 L456.61 413.86 L459.25 415.12 L461.90 416.31 L464.54 417.42 L467.19 418.45 L469.83 419.43 L472.48 420.34 L475.12 421.19 L477.76 421.99 L480.41 422.74 L483.05 423.45 L485.70 424.12 L488.34 424.74 L490.98 425.33 L493.63 425.88 L496.27 426.41 L498.92 426.90 L501.56 427.36 L504.21 427.80 L506.85 428.21 L509.49 428.60 L512.14 428.97 L514.78 429.32 L517.43 429.65 L520.07 429.96 L522.72 430.26 L525.36 430.53 L528.00 430.80 L530.65 431.05 L533.29 431.29 L535.94 431.51 L538.58 431.73 L541.23 431.93 L543.87 432.12 L546.51 432.30 L549.16 432.48 L551.80 432.64 L554.45 432.80 L557.09 432.95 L559.73 433.09 L562.38 433.22 L565.02 433.35 L567.67 433.47 L570.31 433.59 L572.96 433.70 L575.60 433.81 L578.24 433.91 L580.89 434.00 L583.53 434.09 L586.18 434.18 L588.82 434.26 L591.47 434.34 L594.11 434.42 L596.75 434.49 L599.40 434.56 L602.04 434.63 L604.69 434.69 L607.33 434.75 L609.98 434.81 L612.62 434.86 L615.26 434.92 L617.91 434.97 L620.55 435.02 L623.20 435.06 L625.84 435.11 L626.64 435.12" fill="none" stroke="#ff0000" stroke-width="2.5" stroke-linecap="butt" stroke-linejoin="round"/><path d="M387.86 295.64 L390.50 307.07 L393.15 317.43 L395.79 326.81 L398.44 335.34 L401.08 343.10 L403.73 350.16 L406.37 356.61 L409.01 362.49 L411.66 367.88 L414.30 372.80 L416.95 377.32 L419.59 381.47 L422.23 385.28 L424.88 388.78 L427.52 392.01 L430.17 394.99 L432.81 397.73 L435.46 400.27 L438.10 402.61 L440.74 404.78 L443.39 406.78 L446.03 408.65 L448.68 410.37 L451.32 411.97 L453.97 413.46 L456.61 414.85 L459.25 416.14 L461.90 417.34 L464.54 418.45 L467.19 419.50 L469.83 420.47 L472.48 421.38 L475.12 422.23 L477.76 423.02 L480.41 423.76 L483.05 424.46 L485.70 425.11 L488.34 425.72 L490.98 426.29 L493.63 426.83 L496.27 427.33 L498.92 427.80 L501.56 428.25 L504.21 428.67 L506.85 429.06 L509.49 429.43 L512.14 429.78 L514.78 430.11 L517.43 430.42 L520.07 430.71 L522.72 430.98 L525.36 431.24 L528.00 431.49 L530.65 431.72 L533.29 431.94 L535.94 432.15 L538.58 432.34 L541.23 432.53 L543.87 432.70 L546.51 432.87 L549.16 433.02 L551.80 433.17 L554.45 433.31 L557.09 433.45 L559.73 433.57 L562.38 433.69 L565.02 433.81 L567.67 433.92 L570.31 434.02 L572.96 434.12 L575.60 434.21 L578.24 434.30 L580.89 434.38 L583.53 434.46 L586.18 434.54 L588.82 434.61 L591.47 434.68 L594.11 434.74 L596.75 434.81 L599.40 434.87 L602.04 434.92 L604.69 434.98 L607.33 435.03 L609.98 435.08 L612.62 435.12 L615.26 435.17 L617.91 435.21 L620.55 435.25 L623.20 435.29 L625.84 435.33 L626.64 435.34" fill="none" stroke="#00a000" stroke-width="2.5" stroke-linecap="butt" stroke-linejoin="round"/><path d="M387.86 307.83 L390.50 317.47 L393.15 326.25 L395.79 334.26 L398.44 341.59 L401.08 348.30 L403.73 354.45 L406.37 360.09 L409.01 365.28 L411.66 370.05 L414.30 374.45 L416.95 378.51 L419.59 382.26 L422.23 385.72 L424.88 388.92 L427.52 391.89 L430.17 394.64 L432.81 397.19 L435.46 399.56 L438.10 401.77 L440.74 403.82 L443.39 405.73 L446.03 407.51 L448.68 409.17 L451.32 410.72 L453.97 412.17 L456.61 413.52 L459.25 414.79 L461.90 415.97 L464.54 417.08 L467.19 418.12 L469.83 419.10 L472.48 420.01 L475.12 420.87 L477.76 421.68 L480.41 422.44 L483.05 423.15 L485.70 423.82 L488.34 424.46 L490.98 425.05 L493.63 425.61 L496.27 426.14 L498.92 426.64 L501.56 427.12 L504.21 427.56 L506.85 427.98 L509.49 428.38 L512.14 428.75 L514.78 429.11 L517.43 429.45 L520.07 429.76 L522.72 430.07 L525.36 430.35 L528.00 430.62 L530.65 430.88 L533.29 431.12 L535.94 431.35 L538.58 431.57 L541.23 431.78 L543.87 431.98 L546.51 432.17 L549.16 432.35 L551.80 432.51 L554.45 432.68 L557.09 432.83 L559.73 432.98 L562.38 433.11 L565.02 433.25 L567.67 433.37 L570.31 433.49 L572.96 433.61 L575.60 433.72 L578.24 433.82 L580.89 433.92 L583.53 434.01 L586.18 434.10 L588.82 434.19 L591.47 434.27 L594.11 434.35 L596.75 434.43 L599.40 434.50 L602.04 434.57 L604.69 434.63 L607.33 434.69 L609.98 434.75 L612.62 434.81 L615.26 434.86 L617.91 434.92 L620.55 434.97 L623.20 435.01 L625.84 435.06 L626.64 435.07" fill="none" stroke="#0000ff" stroke-width="2.5" stroke-linecap="butt" stroke-linejoin="round"/><path d="M387.86 299.98 L390.50 310.80 L393.15 320.61 L395.79 329.53 L398.44 337.64 L401.08 345.03 L403.73 351.77 L406.37 357.93 L409.01 363.57 L411.66 368.74 L414.30 373.48 L416.95 377.83 L419.59 381.83 L422.23 385.51 L424.88 388.90 L427.52 392.03 L430.17 394.92 L432.81 397.59 L435.46 400.06 L438.10 402.35 L440.74 404.47 L443.39 406.44 L446.03 408.27 L448.68 409.97 L451.32 411.55 L453.97 413.02 L456.61 414.39 L459.25 415.66 L461.90 416.85 L464.54 417.97 L467.19 419.00 L469.83 419.98 L472.48 420.88 L475.12 421.73 L477.76 422.53 L480.41 423.28 L483.05 423.98 L485.70 424.63 L488.34 425.25 L490.98 425.83 L493.63 426.37 L496.27 426.88 L498.92 427.36 L501.56 427.82 L504.21 428.24 L506.85 428.65 L509.49 429.03 L512.14 429.38 L514.78 429.72 L517.43 430.04 L520.07 430.34 L522.72 430.63 L525.36 430.89 L528.00 431.15 L530.65 431.39 L533.29 431.62 L535.94 431.83 L538.58 432.04 L541.23 432.23 L543.87 432.41 L546.51 432.59 L549.16 432.75 L551.80 432.91 L554.45 433.06 L557.09 433.20 L559.73 433.33 L562.38 433.46 L565.02 433.58 L567.67 433.70 L570.31 433.80 L572.96 433.91 L575.60 434.01 L578.24 434.10 L580.89 434.19 L583.53 434.28 L586.18 434.36 L588.82 434.44 L591.47 434.51 L594.11 434.58 L596.75 434.65 L599.40 434.71 L602.04 434.77 L604.69 434.83 L607.33 434.89 L609.98 434.94 L612.62 434.99 L615.26 435.04 L617.91 435.09 L620.55 435.13 L623.20 435.17 L625.84 435.22 L626.64 435.23" fill="none" stroke="#000000" stroke-width="2.5" stroke-linecap="butt" stroke-linejoin="round"/><path d="M383.10 440.04h1.9M383.10 436.20h3.3M383.10 432.36h1.9M383.10 428.53h1.9M383.10 424.69h1.9M383.10 420.85h1.9M383.10 417.01h3.3M383.10 413.18h1.9M383.10 409.34h1.9M383.10 405.50h1.9M383.10 401.67h1.9M383.10 397.83h3.3M383.10 393.99h1.9M383.10 390.15h1.9M383.10 386.32h1.9M383.10 382.48h1.9M383.10 378.64h3.3M383.10 374.81h1.9M383.10 370.97h1.9M383.10 367.13h1.9M383.10 363.29h1.9M383.10 359.46h3.3M383.10 355.62h1.9M383.10 351.78h1.9M383.10 347.95h1.9M383.10 344.11h1.9M383.10 340.27h3.3M383.10 336.43h1.9M383.10 332.60h1.9M383.10 328.76h1.9M383.10 324.92h1.9M383.10 321.09h3.3M383.10 317.25h1.9M383.10 313.41h1.9M383.10 309.57h1.9M383.10 305.74h1.9M383.10 301.90h3.3M383.10 298.06h1.9M383.10 294.23h1.9" stroke="#111" stroke-width="0.8" fill="none"/><path d="M387.86 443.40v-1.9M401.08 443.40v-1.9M414.30 443.40v-3.3M427.52 443.40v-1.9M440.74 443.40v-1.9M453.97 443.40v-1.9M467.19 443.40v-3.3M480.41 443.40v-1.9M493.63 443.40v-1.9M506.85 443.40v-1.9M520.07 443.40v-3.3M533.29 443.40v-1.9M546.51 443.40v-1.9M559.73 443.40v-1.9M572.96 443.40v-3.3M586.18 443.40v-1.9M599.40 443.40v-1.9M612.62 443.40v-1.9M625.84 443.40v-3.3" stroke="#444" stroke-width="0.7" fill="none"/><path d="M630.60 436.20h-3.3M630.60 426.61h-1.9M630.60 417.01h-3.3M630.60 407.42h-1.9M630.60 397.83h-3.3M630.60 388.24h-1.9M630.60 378.64h-3.3M630.60 369.05h-1.9M630.60 359.46h-3.3M630.60 349.86h-1.9M630.60 340.27h-3.3M630.60 330.68h-1.9M630.60 321.09h-3.3M630.60 311.49h-1.9M630.60 301.90h-3.3M630.60 292.31h-1.9M387.86 290.60v1.9M401.08 290.60v1.9M414.30 290.60v3.3M427.52 290.60v1.9M440.74 290.60v1.9M453.97 290.60v1.9M467.19 290.60v3.3M480.41 290.60v1.9M493.63 290.60v1.9M506.85 290.60v1.9M520.07 290.60v3.3M533.29 290.60v1.9M546.51 290.60v1.9M559.73 290.60v1.9M572.96 290.60v3.3M586.18 290.60v1.9M599.40 290.60v1.9M612.62 290.60v1.9M625.84 290.60v3.3" stroke="#666" stroke-width="0.6" fill="none"/><rect x="383.10" y="290.60" width="247.50" height="152.80" fill="none" stroke="#555555" stroke-width="1.15"/><text transform="translate(379.10 440.40) scale(0.887 1)" font-size="15" text-anchor="end">0.00</text><text transform="translate(379.10 421.21) scale(0.887 1)" font-size="15" text-anchor="end">0.01</text><text transform="translate(379.10 402.03) scale(0.887 1)" font-size="15" text-anchor="end">0.02</text><text transform="translate(379.10 382.84) scale(0.887 1)" font-size="15" text-anchor="end">0.03</text><text transform="translate(379.10 363.66) scale(0.887 1)" font-size="15" text-anchor="end">0.04</text><text transform="translate(379.10 344.47) scale(0.887 1)" font-size="15" text-anchor="end">0.05</text><text transform="translate(379.10 325.29) scale(0.887 1)" font-size="15" text-anchor="end">0.06</text><text transform="translate(379.10 306.10) scale(0.887 1)" font-size="15" text-anchor="end">0.07</text><text transform="translate(414.40 457.20) scale(0.887 1)" font-size="15" text-anchor="middle">60</text><text transform="translate(467.29 457.20) scale(0.887 1)" font-size="15" text-anchor="middle">80</text><text transform="translate(520.17 457.20) scale(0.887 1)" font-size="15" text-anchor="middle">100</text><text transform="translate(573.06 457.20) scale(0.887 1)" font-size="15" text-anchor="middle">120</text><text transform="translate(625.94 457.20) scale(0.887 1)" font-size="15" text-anchor="middle">140</text></g>
<g><path d="M677.25 307.93 L679.89 317.79 L682.53 326.76 L685.17 334.93 L687.81 342.39 L690.45 349.20 L693.09 355.43 L695.73 361.14 L698.37 366.37 L701.01 371.18 L703.65 375.60 L706.29 379.67 L708.93 383.43 L711.57 386.89 L714.21 390.09 L716.85 393.04 L719.49 395.78 L722.13 398.32 L724.77 400.67 L727.41 402.85 L730.05 404.88 L732.69 406.76 L735.33 408.51 L737.97 410.15 L740.61 411.67 L743.25 413.09 L745.89 414.42 L748.53 415.65 L751.17 416.81 L753.81 417.89 L756.45 418.91 L759.09 419.86 L761.73 420.75 L764.37 421.58 L767.01 422.36 L769.65 423.10 L772.29 423.79 L774.93 424.44 L777.57 425.05 L780.21 425.62 L782.85 426.16 L785.49 426.67 L788.13 427.15 L790.77 427.61 L793.41 428.03 L796.05 428.44 L798.69 428.82 L801.33 429.18 L803.97 429.52 L806.61 429.84 L809.25 430.14 L811.89 430.43 L814.53 430.70 L817.17 430.96 L819.81 431.21 L822.45 431.44 L825.09 431.66 L827.73 431.86 L830.37 432.06 L833.01 432.25 L835.65 432.43 L838.29 432.60 L840.93 432.76 L843.57 432.91 L846.21 433.05 L848.85 433.19 L851.49 433.32 L854.13 433.45 L856.77 433.57 L859.41 433.68 L862.05 433.79 L864.69 433.89 L867.33 433.99 L869.97 434.08 L872.61 434.17 L875.25 434.26 L877.89 434.34 L880.53 434.41 L883.17 434.49 L885.81 434.56 L888.45 434.62 L891.09 434.69 L893.73 434.75 L896.37 434.81 L899.01 434.86 L901.65 434.92 L904.29 434.97 L906.93 435.02 L909.57 435.06 L912.21 435.11 L914.85 435.15 L915.65 435.17" fill="none" stroke="#ff0000" stroke-width="2.5" stroke-linecap="butt" stroke-linejoin="round"/><path d="M677.25 296.08 L679.89 307.71 L682.53 318.23 L685.17 327.74 L687.81 336.37 L690.45 344.20 L693.09 351.33 L695.73 357.81 L698.37 363.73 L701.01 369.13 L703.65 374.06 L706.29 378.58 L708.93 382.72 L711.57 386.51 L714.21 390.00 L716.85 393.21 L719.49 396.16 L722.13 398.88 L724.77 401.38 L727.41 403.70 L730.05 405.83 L732.69 407.81 L735.33 409.64 L737.97 411.33 L740.61 412.90 L743.25 414.36 L745.89 415.71 L748.53 416.97 L751.17 418.14 L753.81 419.23 L756.45 420.24 L759.09 421.19 L761.73 422.07 L764.37 422.89 L767.01 423.66 L769.65 424.37 L772.29 425.04 L774.93 425.67 L777.57 426.26 L780.21 426.81 L782.85 427.33 L785.49 427.81 L788.13 428.26 L790.77 428.69 L793.41 429.09 L796.05 429.47 L798.69 429.82 L801.33 430.15 L803.97 430.47 L806.61 430.76 L809.25 431.04 L811.89 431.30 L814.53 431.55 L817.17 431.78 L819.81 432.00 L822.45 432.21 L825.09 432.40 L827.73 432.59 L830.37 432.76 L833.01 432.93 L835.65 433.09 L838.29 433.23 L840.93 433.37 L843.57 433.51 L846.21 433.63 L848.85 433.75 L851.49 433.87 L854.13 433.97 L856.77 434.08 L859.41 434.17 L862.05 434.26 L864.69 434.35 L867.33 434.43 L869.97 434.51 L872.61 434.59 L875.25 434.66 L877.89 434.73 L880.53 434.79 L883.17 434.85 L885.81 434.91 L888.45 434.97 L891.09 435.02 L893.73 435.07 L896.37 435.12 L899.01 435.17 L901.65 435.21 L904.29 435.25 L906.93 435.29 L909.57 435.33 L912.21 435.37 L914.85 435.40 L915.65 435.41" fill="none" stroke="#00a000" stroke-width="2.5" stroke-linecap="butt" stroke-linejoin="round"/><path d="M677.25 314.81 L679.89 323.62 L682.53 331.67 L685.17 339.05 L687.81 345.81 L690.45 352.01 L693.09 357.72 L695.73 362.97 L698.37 367.81 L701.01 372.28 L703.65 376.41 L706.29 380.22 L708.93 383.75 L711.57 387.02 L714.21 390.06 L716.85 392.88 L719.49 395.50 L722.13 397.93 L724.77 400.20 L727.41 402.31 L730.05 404.28 L732.69 406.12 L735.33 407.83 L737.97 409.43 L740.61 410.93 L743.25 412.34 L745.89 413.65 L748.53 414.88 L751.17 416.04 L753.81 417.12 L756.45 418.14 L759.09 419.09 L761.73 419.99 L764.37 420.83 L767.01 421.63 L769.65 422.38 L772.29 423.08 L774.93 423.74 L777.57 424.37 L780.21 424.96 L782.85 425.52 L785.49 426.04 L788.13 426.54 L790.77 427.01 L793.41 427.45 L796.05 427.87 L798.69 428.27 L801.33 428.65 L803.97 429.00 L806.61 429.34 L809.25 429.66 L811.89 429.96 L814.53 430.25 L817.17 430.52 L819.81 430.78 L822.45 431.02 L825.09 431.26 L827.73 431.48 L830.37 431.69 L833.01 431.89 L835.65 432.08 L838.29 432.26 L840.93 432.43 L843.57 432.59 L846.21 432.75 L848.85 432.90 L851.49 433.04 L854.13 433.17 L856.77 433.30 L859.41 433.42 L862.05 433.54 L864.69 433.65 L867.33 433.76 L869.97 433.86 L872.61 433.96 L875.25 434.05 L877.89 434.13 L880.53 434.22 L883.17 434.30 L885.81 434.38 L888.45 434.45 L891.09 434.52 L893.73 434.59 L896.37 434.65 L899.01 434.71 L901.65 434.77 L904.29 434.82 L906.93 434.88 L909.57 434.93 L912.21 434.98 L914.85 435.03 L915.65 435.04" fill="none" stroke="#0000ff" stroke-width="2.5" stroke-linecap="butt" stroke-linejoin="round"/><path d="M677.25 301.56 L679.89 312.36 L682.53 322.15 L685.17 331.04 L687.81 339.12 L690.45 346.48 L693.09 353.19 L695.73 359.32 L698.37 364.92 L701.01 370.04 L703.65 374.74 L706.29 379.05 L708.93 383.02 L711.57 386.66 L714.21 390.02 L716.85 393.11 L719.49 395.96 L722.13 398.60 L724.77 401.03 L727.41 403.29 L730.05 405.38 L732.69 407.31 L735.33 409.11 L737.97 410.78 L740.61 412.33 L743.25 413.77 L745.89 415.11 L748.53 416.36 L751.17 417.53 L753.81 418.61 L756.45 419.63 L759.09 420.58 L761.73 421.46 L764.37 422.29 L767.01 423.07 L769.65 423.79 L772.29 424.47 L774.93 425.11 L777.57 425.71 L780.21 426.27 L782.85 426.80 L785.49 427.30 L788.13 427.76 L790.77 428.20 L793.41 428.61 L796.05 429.00 L798.69 429.37 L801.33 429.71 L803.97 430.04 L806.61 430.35 L809.25 430.64 L811.89 430.91 L814.53 431.17 L817.17 431.41 L819.81 431.64 L822.45 431.86 L825.09 432.07 L827.73 432.27 L830.37 432.45 L833.01 432.63 L835.65 432.79 L838.29 432.95 L840.93 433.10 L843.57 433.24 L846.21 433.38 L848.85 433.50 L851.49 433.63 L854.13 433.74 L856.77 433.85 L859.41 433.95 L862.05 434.05 L864.69 434.15 L867.33 434.24 L869.97 434.32 L872.61 434.40 L875.25 434.48 L877.89 434.55 L880.53 434.62 L883.17 434.69 L885.81 434.75 L888.45 434.82 L891.09 434.87 L893.73 434.93 L896.37 434.98 L899.01 435.03 L901.65 435.08 L904.29 435.13 L906.93 435.17 L909.57 435.21 L912.21 435.25 L914.85 435.29 L915.65 435.30" fill="none" stroke="#000000" stroke-width="2.5" stroke-linecap="butt" stroke-linejoin="round"/><path d="M672.50 436.20h3.3M672.50 426.82h1.9M672.50 417.45h1.9M672.50 408.07h1.9M672.50 398.70h3.3M672.50 389.32h1.9M672.50 379.95h1.9M672.50 370.57h1.9M672.50 361.20h3.3M672.50 351.82h1.9M672.50 342.45h1.9M672.50 333.07h1.9M672.50 323.70h3.3M672.50 314.32h1.9M672.50 304.95h1.9M672.50 295.57h1.9" stroke="#111" stroke-width="0.8" fill="none"/><path d="M677.25 443.40v-1.9M690.45 443.40v-1.9M703.65 443.40v-3.3M716.85 443.40v-1.9M730.05 443.40v-1.9M743.25 443.40v-1.9M756.45 443.40v-3.3M769.65 443.40v-1.9M782.85 443.40v-1.9M796.05 443.40v-1.9M809.25 443.40v-3.3M822.45 443.40v-1.9M835.65 443.40v-1.9M848.85 443.40v-1.9M862.05 443.40v-3.3M875.25 443.40v-1.9M888.45 443.40v-1.9M901.65 443.40v-1.9M914.85 443.40v-3.3" stroke="#444" stroke-width="0.7" fill="none"/><path d="M919.60 436.20h-3.3M919.60 417.45h-1.9M919.60 398.70h-3.3M919.60 379.95h-1.9M919.60 361.20h-3.3M919.60 342.45h-1.9M919.60 323.70h-3.3M919.60 304.95h-1.9M677.25 290.60v1.9M690.45 290.60v1.9M703.65 290.60v3.3M716.85 290.60v1.9M730.05 290.60v1.9M743.25 290.60v1.9M756.45 290.60v3.3M769.65 290.60v1.9M782.85 290.60v1.9M796.05 290.60v1.9M809.25 290.60v3.3M822.45 290.60v1.9M835.65 290.60v1.9M848.85 290.60v1.9M862.05 290.60v3.3M875.25 290.60v1.9M888.45 290.60v1.9M901.65 290.60v1.9M914.85 290.60v3.3" stroke="#666" stroke-width="0.6" fill="none"/><rect x="672.50" y="290.60" width="247.10" height="152.80" fill="none" stroke="#555555" stroke-width="1.15"/><text transform="translate(668.50 440.40) scale(0.887 1)" font-size="15" text-anchor="end">0.00</text><text transform="translate(668.50 402.90) scale(0.887 1)" font-size="15" text-anchor="end">0.02</text><text transform="translate(668.50 365.40) scale(0.887 1)" font-size="15" text-anchor="end">0.04</text><text transform="translate(668.50 327.90) scale(0.887 1)" font-size="15" text-anchor="end">0.06</text><text transform="translate(703.75 457.20) scale(0.887 1)" font-size="15" text-anchor="middle">60</text><text transform="translate(756.55 457.20) scale(0.887 1)" font-size="15" text-anchor="middle">80</text><text transform="translate(809.35 457.20) scale(0.887 1)" font-size="15" text-anchor="middle">100</text><text transform="translate(862.15 457.20) scale(0.887 1)" font-size="15" text-anchor="middle">120</text><text transform="translate(914.95 457.20) scale(0.887 1)" font-size="15" text-anchor="middle">140</text></g>
<g><path d="M91.75 614.82 L94.46 614.79 L97.18 614.76 L99.89 614.74 L102.61 614.71 L105.32 614.68 L108.04 614.65 L110.75 614.62 L113.47 614.59 L116.18 614.56 L118.89 614.54 L121.61 614.51 L124.32 614.48 L127.04 614.45 L129.75 614.42 L132.47 614.39 L135.18 614.36 L137.90 614.34 L140.61 614.31 L143.32 614.28 L146.04 614.25 L148.75 614.22 L151.47 614.19 L154.18 614.16 L156.90 614.13 L159.61 614.11 L162.33 614.08 L165.04 614.05 L167.76 614.02 L170.47 613.99 L173.18 613.96 L175.90 613.93 L178.61 613.91 L181.33 613.88 L184.04 613.85 L186.76 613.82 L189.47 613.79 L192.19 613.76 L194.90 613.73 L197.62 613.71 L200.33 613.68 L203.04 613.65 L205.76 613.62 L208.47 613.59 L211.19 613.56 L213.90 613.53 L216.62 613.51 L219.33 613.48 L222.05 613.45 L224.76 613.42 L227.47 613.39 L230.19 613.36 L232.90 613.33 L235.62 613.31 L238.33 613.28 L241.05 613.25 L243.76 613.22 L246.48 613.19 L249.19 613.16 L251.91 613.13 L254.62 613.10 L257.33 613.08 L260.05 613.05 L262.76 613.02 L265.48 612.99 L268.19 612.96 L270.91 612.93 L273.62 612.90 L276.34 612.88 L279.05 612.85 L281.77 612.82 L284.48 612.79 L287.19 612.76 L289.91 612.73 L292.62 612.70 L295.34 612.68 L298.05 612.65 L300.77 612.62 L303.48 612.59 L306.20 612.56 L308.91 612.53 L311.62 612.50 L314.34 612.48 L317.05 612.45 L319.77 612.42 L322.48 612.39 L325.20 612.36 L327.91 612.33 L330.63 612.30 L333.34 612.27 L336.06 612.25 L336.86 612.24" fill="none" stroke="#ff0000" stroke-width="2.4" stroke-linecap="butt" stroke-linejoin="round"/><path d="M91.75 615.99 L94.46 616.04 L97.18 616.10 L99.89 616.15 L102.61 616.21 L105.32 616.26 L108.04 616.32 L110.75 616.37 L113.47 616.42 L116.18 616.48 L118.89 616.53 L121.61 616.58 L124.32 616.64 L127.04 616.69 L129.75 616.74 L132.47 616.79 L135.18 616.84 L137.90 616.89 L140.61 616.94 L143.32 616.99 L146.04 617.04 L148.75 617.08 L151.47 617.13 L154.18 617.18 L156.90 617.23 L159.61 617.27 L162.33 617.32 L165.04 617.36 L167.76 617.41 L170.47 617.45 L173.18 617.50 L175.90 617.54 L178.61 617.58 L181.33 617.63 L184.04 617.67 L186.76 617.71 L189.47 617.75 L192.19 617.79 L194.90 617.83 L197.62 617.87 L200.33 617.91 L203.04 617.95 L205.76 617.99 L208.47 618.02 L211.19 618.06 L213.90 618.10 L216.62 618.13 L219.33 618.17 L222.05 618.21 L224.76 618.24 L227.47 618.27 L230.19 618.31 L232.90 618.34 L235.62 618.37 L238.33 618.40 L241.05 618.44 L243.76 618.47 L246.48 618.50 L249.19 618.53 L251.91 618.56 L254.62 618.58 L257.33 618.61 L260.05 618.64 L262.76 618.67 L265.48 618.69 L268.19 618.72 L270.91 618.74 L273.62 618.77 L276.34 618.79 L279.05 618.81 L281.77 618.84 L284.48 618.86 L287.19 618.88 L289.91 618.90 L292.62 618.92 L295.34 618.94 L298.05 618.96 L300.77 618.98 L303.48 619.00 L306.20 619.01 L308.91 619.03 L311.62 619.04 L314.34 619.06 L317.05 619.07 L319.77 619.09 L322.48 619.10 L325.20 619.11 L327.91 619.13 L330.63 619.14 L333.34 619.15 L336.06 619.16 L336.86 619.16" fill="none" stroke="#00a000" stroke-width="2.4" stroke-linecap="butt" stroke-linejoin="round"/><path d="M91.75 503.93 L94.46 503.57 L97.18 503.21 L99.89 502.85 L102.61 502.51 L105.32 502.16 L108.04 501.83 L110.75 501.49 L113.47 501.17 L116.18 500.85 L118.89 500.53 L121.61 500.22 L124.32 499.91 L127.04 499.61 L129.75 499.31 L132.47 499.02 L135.18 498.73 L137.90 498.45 L140.61 498.17 L143.32 497.89 L146.04 497.62 L148.75 497.36 L151.47 497.10 L154.18 496.84 L156.90 496.59 L159.61 496.34 L162.33 496.10 L165.04 495.86 L167.76 495.62 L170.47 495.39 L173.18 495.16 L175.90 494.93 L178.61 494.71 L181.33 494.50 L184.04 494.28 L186.76 494.07 L189.47 493.86 L192.19 493.66 L194.90 493.46 L197.62 493.26 L200.33 493.07 L203.04 492.88 L205.76 492.69 L208.47 492.51 L211.19 492.33 L213.90 492.15 L216.62 491.97 L219.33 491.80 L222.05 491.63 L224.76 491.47 L227.47 491.30 L230.19 491.14 L232.90 490.98 L235.62 490.82 L238.33 490.67 L241.05 490.52 L243.76 490.37 L246.48 490.22 L249.19 490.07 L251.91 489.93 L254.62 489.79 L257.33 489.65 L260.05 489.51 L262.76 489.38 L265.48 489.24 L268.19 489.11 L270.91 488.98 L273.62 488.85 L276.34 488.73 L279.05 488.60 L281.77 488.48 L284.48 488.36 L287.19 488.23 L289.91 488.11 L292.62 487.99 L295.34 487.88 L298.05 487.76 L300.77 487.65 L303.48 487.53 L306.20 487.42 L308.91 487.30 L311.62 487.19 L314.34 487.08 L317.05 486.97 L319.77 486.86 L322.48 486.75 L325.20 486.64 L327.91 486.53 L330.63 486.43 L333.34 486.32 L336.06 486.21 L336.86 486.18" fill="none" stroke="#0000ff" stroke-width="2.4" stroke-linecap="butt" stroke-linejoin="round"/><path d="M91.75 478.11 L94.46 478.16 L97.18 478.20 L99.89 478.24 L102.61 478.27 L105.32 478.31 L108.04 478.34 L110.75 478.37 L113.47 478.40 L116.18 478.43 L118.89 478.45 L121.61 478.48 L124.32 478.50 L127.04 478.52 L129.75 478.53 L132.47 478.55 L135.18 478.56 L137.90 478.58 L140.61 478.59 L143.32 478.60 L146.04 478.61 L148.75 478.61 L151.47 478.62 L154.18 478.62 L156.90 478.63 L159.61 478.63 L162.33 478.63 L165.04 478.63 L167.76 478.63 L170.47 478.62 L173.18 478.62 L175.90 478.61 L178.61 478.61 L181.33 478.60 L184.04 478.59 L186.76 478.58 L189.47 478.57 L192.19 478.56 L194.90 478.55 L197.62 478.53 L200.33 478.52 L203.04 478.51 L205.76 478.49 L208.47 478.48 L211.19 478.46 L213.90 478.45 L216.62 478.43 L219.33 478.41 L222.05 478.39 L224.76 478.38 L227.47 478.36 L230.19 478.34 L232.90 478.32 L235.62 478.30 L238.33 478.28 L241.05 478.26 L243.76 478.24 L246.48 478.22 L249.19 478.20 L251.91 478.18 L254.62 478.16 L257.33 478.14 L260.05 478.12 L262.76 478.10 L265.48 478.09 L268.19 478.07 L270.91 478.05 L273.62 478.03 L276.34 478.01 L279.05 477.99 L281.77 477.98 L284.48 477.96 L287.19 477.95 L289.91 477.93 L292.62 477.91 L295.34 477.90 L298.05 477.89 L300.77 477.87 L303.48 477.86 L306.20 477.85 L308.91 477.84 L311.62 477.83 L314.34 477.82 L317.05 477.81 L319.77 477.81 L322.48 477.80 L325.20 477.80 L327.91 477.79 L330.63 477.79 L333.34 477.79 L336.06 477.79 L336.86 477.79" fill="none" stroke="#000000" stroke-width="2.4" stroke-linecap="butt" stroke-linejoin="round"/><path d="M87.00 624.58h1.9M87.00 616.84h1.9M87.00 609.10h3.3M87.00 601.36h1.9M87.00 593.62h1.9M87.00 585.89h1.9M87.00 578.15h3.3M87.00 570.41h1.9M87.00 562.68h1.9M87.00 554.94h1.9M87.00 547.20h3.3M87.00 539.46h1.9M87.00 531.73h1.9M87.00 523.99h1.9M87.00 516.25h3.3M87.00 508.51h1.9M87.00 500.78h1.9M87.00 493.04h1.9M87.00 485.30h3.3M87.00 477.56h1.9M87.00 469.82h1.9" stroke="#111" stroke-width="0.8" fill="none"/><path d="M91.89 626.70v-1.9M105.47 626.70v-1.9M119.06 626.70v-3.3M132.64 626.70v-1.9M146.23 626.70v-1.9M159.81 626.70v-1.9M173.40 626.70v-3.3M186.98 626.70v-1.9M200.57 626.70v-1.9M214.15 626.70v-1.9M227.73 626.70v-3.3M241.32 626.70v-1.9M254.90 626.70v-1.9M268.49 626.70v-1.9M282.07 626.70v-3.3M295.66 626.70v-1.9M309.24 626.70v-1.9M322.83 626.70v-1.9M336.41 626.70v-3.3" stroke="#444" stroke-width="0.7" fill="none"/><path d="M341.30 624.58h-1.9M341.30 609.10h-3.3M341.30 593.62h-1.9M341.30 578.15h-3.3M341.30 562.68h-1.9M341.30 547.20h-3.3M341.30 531.73h-1.9M341.30 516.25h-3.3M341.30 500.78h-1.9M341.30 485.30h-3.3M341.30 469.82h-1.9M91.89 469.80v1.9M105.47 469.80v1.9M119.06 469.80v3.3M132.64 469.80v1.9M146.23 469.80v1.9M159.81 469.80v1.9M173.40 469.80v3.3M186.98 469.80v1.9M200.57 469.80v1.9M214.15 469.80v1.9M227.73 469.80v3.3M241.32 469.80v1.9M254.90 469.80v1.9M268.49 469.80v1.9M282.07 469.80v3.3M295.66 469.80v1.9M309.24 469.80v1.9M322.83 469.80v1.9M336.41 469.80v3.3" stroke="#666" stroke-width="0.6" fill="none"/><rect x="87.00" y="469.80" width="254.30" height="156.90" fill="none" stroke="#555555" stroke-width="1.15"/><text transform="translate(83.00 613.30) scale(0.887 1)" font-size="15" text-anchor="end">0.2</text><text transform="translate(83.00 582.35) scale(0.887 1)" font-size="15" text-anchor="end">0.4</text><text transform="translate(83.00 551.40) scale(0.887 1)" font-size="15" text-anchor="end">0.6</text><text transform="translate(83.00 520.45) scale(0.887 1)" font-size="15" text-anchor="end">0.8</text><text transform="translate(83.00 489.50) scale(0.887 1)" font-size="15" text-anchor="end">1.0</text><text transform="translate(119.16 640.50) scale(0.887 1)" font-size="15" text-anchor="middle">60</text><text transform="translate(173.50 640.50) scale(0.887 1)" font-size="15" text-anchor="middle">80</text><text transform="translate(227.83 640.50) scale(0.887 1)" font-size="15" text-anchor="middle">100</text><text transform="translate(282.17 640.50) scale(0.887 1)" font-size="15" text-anchor="middle">120</text><text transform="translate(336.51 640.50) scale(0.887 1)" font-size="15" text-anchor="middle">140</text></g>
<g><path d="M380.87 614.52 L383.59 614.50 L386.31 614.47 L389.03 614.45 L391.75 614.43 L394.47 614.41 L397.19 614.38 L399.91 614.36 L402.62 614.34 L405.34 614.32 L408.06 614.30 L410.78 614.28 L413.50 614.26 L416.22 614.24 L418.94 614.22 L421.65 614.19 L424.37 614.17 L427.09 614.15 L429.81 614.13 L432.53 614.11 L435.25 614.09 L437.97 614.07 L440.69 614.05 L443.40 614.03 L446.12 614.01 L448.84 614.00 L451.56 613.98 L454.28 613.96 L457.00 613.94 L459.72 613.92 L462.44 613.90 L465.15 613.88 L467.87 613.86 L470.59 613.84 L473.31 613.83 L476.03 613.81 L478.75 613.79 L481.47 613.77 L484.18 613.75 L486.90 613.74 L489.62 613.72 L492.34 613.70 L495.06 613.68 L497.78 613.67 L500.50 613.65 L503.22 613.63 L505.93 613.62 L508.65 613.60 L511.37 613.58 L514.09 613.57 L516.81 613.55 L519.53 613.53 L522.25 613.52 L524.96 613.50 L527.68 613.48 L530.40 613.47 L533.12 613.45 L535.84 613.44 L538.56 613.42 L541.28 613.40 L544.00 613.39 L546.71 613.37 L549.43 613.36 L552.15 613.34 L554.87 613.33 L557.59 613.31 L560.31 613.30 L563.03 613.28 L565.75 613.27 L568.46 613.25 L571.18 613.24 L573.90 613.22 L576.62 613.21 L579.34 613.20 L582.06 613.18 L584.78 613.17 L587.49 613.15 L590.21 613.14 L592.93 613.13 L595.65 613.11 L598.37 613.10 L601.09 613.09 L603.81 613.07 L606.53 613.06 L609.24 613.04 L611.96 613.03 L614.68 613.02 L617.40 613.01 L620.12 612.99 L622.84 612.98 L625.56 612.97 L626.36 612.96" fill="none" stroke="#ff0000" stroke-width="2.4" stroke-linecap="butt" stroke-linejoin="round"/><path d="M380.87 614.85 L383.59 614.93 L386.31 615.01 L389.03 615.09 L391.75 615.16 L394.47 615.24 L397.19 615.32 L399.91 615.39 L402.62 615.46 L405.34 615.54 L408.06 615.61 L410.78 615.68 L413.50 615.75 L416.22 615.82 L418.94 615.89 L421.65 615.96 L424.37 616.02 L427.09 616.09 L429.81 616.15 L432.53 616.22 L435.25 616.28 L437.97 616.34 L440.69 616.40 L443.40 616.46 L446.12 616.52 L448.84 616.58 L451.56 616.64 L454.28 616.70 L457.00 616.76 L459.72 616.81 L462.44 616.87 L465.15 616.92 L467.87 616.98 L470.59 617.03 L473.31 617.08 L476.03 617.13 L478.75 617.19 L481.47 617.24 L484.18 617.29 L486.90 617.33 L489.62 617.38 L492.34 617.43 L495.06 617.48 L497.78 617.52 L500.50 617.57 L503.22 617.61 L505.93 617.66 L508.65 617.70 L511.37 617.75 L514.09 617.79 L516.81 617.83 L519.53 617.87 L522.25 617.91 L524.96 617.95 L527.68 617.99 L530.40 618.03 L533.12 618.07 L535.84 618.11 L538.56 618.14 L541.28 618.18 L544.00 618.22 L546.71 618.25 L549.43 618.29 L552.15 618.32 L554.87 618.36 L557.59 618.39 L560.31 618.43 L563.03 618.46 L565.75 618.49 L568.46 618.52 L571.18 618.55 L573.90 618.59 L576.62 618.62 L579.34 618.65 L582.06 618.68 L584.78 618.71 L587.49 618.74 L590.21 618.76 L592.93 618.79 L595.65 618.82 L598.37 618.85 L601.09 618.88 L603.81 618.90 L606.53 618.93 L609.24 618.95 L611.96 618.98 L614.68 619.01 L617.40 619.03 L620.12 619.06 L622.84 619.08 L625.56 619.11 L626.36 619.11" fill="none" stroke="#00a000" stroke-width="2.4" stroke-linecap="butt" stroke-linejoin="round"/><path d="M380.87 529.47 L383.59 529.15 L386.31 528.83 L389.03 528.52 L391.75 528.21 L394.47 527.90 L397.19 527.61 L399.91 527.31 L402.62 527.02 L405.34 526.74 L408.06 526.46 L410.78 526.19 L413.50 525.92 L416.22 525.65 L418.94 525.39 L421.65 525.14 L424.37 524.88 L427.09 524.64 L429.81 524.40 L432.53 524.16 L435.25 523.92 L437.97 523.69 L440.69 523.47 L443.40 523.24 L446.12 523.02 L448.84 522.81 L451.56 522.60 L454.28 522.39 L457.00 522.19 L459.72 521.99 L462.44 521.79 L465.15 521.60 L467.87 521.41 L470.59 521.23 L473.31 521.05 L476.03 520.87 L478.75 520.69 L481.47 520.52 L484.18 520.35 L486.90 520.18 L489.62 520.02 L492.34 519.86 L495.06 519.70 L497.78 519.55 L500.50 519.39 L503.22 519.24 L505.93 519.10 L508.65 518.95 L511.37 518.81 L514.09 518.67 L516.81 518.54 L519.53 518.40 L522.25 518.27 L524.96 518.14 L527.68 518.01 L530.40 517.88 L533.12 517.76 L535.84 517.64 L538.56 517.52 L541.28 517.40 L544.00 517.28 L546.71 517.17 L549.43 517.06 L552.15 516.94 L554.87 516.84 L557.59 516.73 L560.31 516.62 L563.03 516.51 L565.75 516.41 L568.46 516.31 L571.18 516.21 L573.90 516.10 L576.62 516.01 L579.34 515.91 L582.06 515.81 L584.78 515.71 L587.49 515.62 L590.21 515.52 L592.93 515.43 L595.65 515.33 L598.37 515.24 L601.09 515.15 L603.81 515.06 L606.53 514.96 L609.24 514.87 L611.96 514.78 L614.68 514.69 L617.40 514.60 L620.12 514.51 L622.84 514.42 L625.56 514.33 L626.36 514.30" fill="none" stroke="#0000ff" stroke-width="2.4" stroke-linecap="butt" stroke-linejoin="round"/><path d="M380.87 477.50 L383.59 477.77 L386.31 478.03 L389.03 478.29 L391.75 478.55 L394.47 478.80 L397.19 479.04 L399.91 479.29 L402.62 479.52 L405.34 479.75 L408.06 479.98 L410.78 480.21 L413.50 480.42 L416.22 480.64 L418.94 480.85 L421.65 481.06 L424.37 481.26 L427.09 481.46 L429.81 481.65 L432.53 481.84 L435.25 482.03 L437.97 482.21 L440.69 482.39 L443.40 482.56 L446.12 482.73 L448.84 482.90 L451.56 483.06 L454.28 483.22 L457.00 483.38 L459.72 483.53 L462.44 483.68 L465.15 483.83 L467.87 483.97 L470.59 484.11 L473.31 484.25 L476.03 484.39 L478.75 484.52 L481.47 484.64 L484.18 484.77 L486.90 484.89 L489.62 485.01 L492.34 485.13 L495.06 485.24 L497.78 485.35 L500.50 485.46 L503.22 485.57 L505.93 485.67 L508.65 485.77 L511.37 485.87 L514.09 485.97 L516.81 486.07 L519.53 486.16 L522.25 486.25 L524.96 486.34 L527.68 486.42 L530.40 486.51 L533.12 486.59 L535.84 486.67 L538.56 486.75 L541.28 486.83 L544.00 486.90 L546.71 486.97 L549.43 487.05 L552.15 487.12 L554.87 487.19 L557.59 487.25 L560.31 487.32 L563.03 487.39 L565.75 487.45 L568.46 487.51 L571.18 487.57 L573.90 487.64 L576.62 487.69 L579.34 487.75 L582.06 487.81 L584.78 487.87 L587.49 487.92 L590.21 487.98 L592.93 488.03 L595.65 488.09 L598.37 488.14 L601.09 488.19 L603.81 488.25 L606.53 488.30 L609.24 488.35 L611.96 488.40 L614.68 488.45 L617.40 488.51 L620.12 488.56 L622.84 488.61 L625.56 488.66 L626.36 488.67" fill="none" stroke="#000000" stroke-width="2.4" stroke-linecap="butt" stroke-linejoin="round"/><path d="M376.60 620.66h1.9M376.60 612.98h1.9M376.60 605.30h3.3M376.60 597.62h1.9M376.60 589.94h1.9M376.60 582.26h1.9M376.60 574.57h3.3M376.60 566.89h1.9M376.60 559.21h1.9M376.60 551.53h1.9M376.60 543.85h3.3M376.60 536.17h1.9M376.60 528.49h1.9M376.60 520.81h1.9M376.60 513.12h3.3M376.60 505.44h1.9M376.60 497.76h1.9M376.60 490.08h1.9M376.60 482.40h3.3M376.60 474.72h1.9" stroke="#111" stroke-width="0.8" fill="none"/><path d="M381.48 626.70v-1.9M395.05 626.70v-1.9M408.62 626.70v-3.3M422.19 626.70v-1.9M435.76 626.70v-1.9M449.33 626.70v-1.9M462.89 626.70v-3.3M476.46 626.70v-1.9M490.03 626.70v-1.9M503.60 626.70v-1.9M517.17 626.70v-3.3M530.74 626.70v-1.9M544.31 626.70v-1.9M557.87 626.70v-1.9M571.44 626.70v-3.3M585.01 626.70v-1.9M598.58 626.70v-1.9M612.15 626.70v-1.9M625.72 626.70v-3.3" stroke="#444" stroke-width="0.7" fill="none"/><path d="M630.60 620.66h-1.9M630.60 605.30h-3.3M630.60 589.94h-1.9M630.60 574.57h-3.3M630.60 559.21h-1.9M630.60 543.85h-3.3M630.60 528.49h-1.9M630.60 513.12h-3.3M630.60 497.76h-1.9M630.60 482.40h-3.3M381.48 469.80v1.9M395.05 469.80v1.9M408.62 469.80v3.3M422.19 469.80v1.9M435.76 469.80v1.9M449.33 469.80v1.9M462.89 469.80v3.3M476.46 469.80v1.9M490.03 469.80v1.9M503.60 469.80v1.9M517.17 469.80v3.3M530.74 469.80v1.9M544.31 469.80v1.9M557.87 469.80v1.9M571.44 469.80v3.3M585.01 469.80v1.9M598.58 469.80v1.9M612.15 469.80v1.9M625.72 469.80v3.3" stroke="#666" stroke-width="0.6" fill="none"/><rect x="376.60" y="469.80" width="254.00" height="156.90" fill="none" stroke="#555555" stroke-width="1.15"/><text transform="translate(372.60 609.50) scale(0.887 1)" font-size="15" text-anchor="end">0.2</text><text transform="translate(372.60 578.77) scale(0.887 1)" font-size="15" text-anchor="end">0.4</text><text transform="translate(372.60 548.05) scale(0.887 1)" font-size="15" text-anchor="end">0.6</text><text transform="translate(372.60 517.33) scale(0.887 1)" font-size="15" text-anchor="end">0.8</text><text transform="translate(372.60 486.60) scale(0.887 1)" font-size="15" text-anchor="end">1.0</text><text transform="translate(408.72 640.50) scale(0.887 1)" font-size="15" text-anchor="middle">60</text><text transform="translate(462.99 640.50) scale(0.887 1)" font-size="15" text-anchor="middle">80</text><text transform="translate(517.27 640.50) scale(0.887 1)" font-size="15" text-anchor="middle">100</text><text transform="translate(571.54 640.50) scale(0.887 1)" font-size="15" text-anchor="middle">120</text><text transform="translate(625.82 640.50) scale(0.887 1)" font-size="15" text-anchor="middle">140</text></g>
<g><path d="M670.02 613.09 L672.73 613.08 L675.45 613.07 L678.17 613.05 L680.89 613.04 L683.61 613.03 L686.33 613.02 L689.05 613.01 L691.77 612.99 L694.48 612.98 L697.20 612.97 L699.92 612.96 L702.64 612.95 L705.36 612.94 L708.08 612.93 L710.80 612.92 L713.52 612.91 L716.23 612.90 L718.95 612.89 L721.67 612.88 L724.39 612.87 L727.11 612.86 L729.83 612.85 L732.55 612.84 L735.26 612.83 L737.98 612.82 L740.70 612.81 L743.42 612.80 L746.14 612.79 L748.86 612.78 L751.58 612.77 L754.30 612.76 L757.01 612.75 L759.73 612.75 L762.45 612.74 L765.17 612.73 L767.89 612.72 L770.61 612.71 L773.33 612.71 L776.04 612.70 L778.76 612.69 L781.48 612.68 L784.20 612.68 L786.92 612.67 L789.64 612.66 L792.36 612.66 L795.08 612.65 L797.79 612.64 L800.51 612.64 L803.23 612.63 L805.95 612.62 L808.67 612.62 L811.39 612.61 L814.11 612.61 L816.83 612.60 L819.54 612.60 L822.26 612.59 L824.98 612.59 L827.70 612.58 L830.42 612.58 L833.14 612.57 L835.86 612.57 L838.57 612.57 L841.29 612.56 L844.01 612.56 L846.73 612.56 L849.45 612.55 L852.17 612.55 L854.89 612.55 L857.61 612.54 L860.32 612.54 L863.04 612.54 L865.76 612.54 L868.48 612.53 L871.20 612.53 L873.92 612.53 L876.64 612.53 L879.35 612.53 L882.07 612.53 L884.79 612.53 L887.51 612.53 L890.23 612.53 L892.95 612.52 L895.67 612.52 L898.39 612.52 L901.10 612.52 L903.82 612.53 L906.54 612.53 L909.26 612.53 L911.98 612.53 L914.70 612.53 L915.50 612.53" fill="none" stroke="#ff0000" stroke-width="2.4" stroke-linecap="butt" stroke-linejoin="round"/><path d="M670.02 614.02 L672.73 614.13 L675.45 614.24 L678.17 614.34 L680.89 614.45 L683.61 614.55 L686.33 614.65 L689.05 614.75 L691.77 614.85 L694.48 614.94 L697.20 615.03 L699.92 615.13 L702.64 615.22 L705.36 615.31 L708.08 615.39 L710.80 615.48 L713.52 615.56 L716.23 615.65 L718.95 615.73 L721.67 615.81 L724.39 615.89 L727.11 615.96 L729.83 616.04 L732.55 616.11 L735.26 616.19 L737.98 616.26 L740.70 616.33 L743.42 616.40 L746.14 616.46 L748.86 616.53 L751.58 616.60 L754.30 616.66 L757.01 616.72 L759.73 616.79 L762.45 616.85 L765.17 616.91 L767.89 616.97 L770.61 617.02 L773.33 617.08 L776.04 617.14 L778.76 617.19 L781.48 617.24 L784.20 617.30 L786.92 617.35 L789.64 617.40 L792.36 617.45 L795.08 617.50 L797.79 617.55 L800.51 617.60 L803.23 617.64 L805.95 617.69 L808.67 617.73 L811.39 617.78 L814.11 617.82 L816.83 617.86 L819.54 617.91 L822.26 617.95 L824.98 617.99 L827.70 618.03 L830.42 618.07 L833.14 618.11 L835.86 618.15 L838.57 618.19 L841.29 618.23 L844.01 618.26 L846.73 618.30 L849.45 618.34 L852.17 618.37 L854.89 618.41 L857.61 618.44 L860.32 618.48 L863.04 618.51 L865.76 618.55 L868.48 618.58 L871.20 618.62 L873.92 618.65 L876.64 618.68 L879.35 618.72 L882.07 618.75 L884.79 618.78 L887.51 618.82 L890.23 618.85 L892.95 618.88 L895.67 618.91 L898.39 618.95 L901.10 618.98 L903.82 619.01 L906.54 619.05 L909.26 619.08 L911.98 619.11 L914.70 619.14 L915.50 619.15" fill="none" stroke="#00a000" stroke-width="2.4" stroke-linecap="butt" stroke-linejoin="round"/><path d="M670.02 548.74 L672.73 548.30 L675.45 547.86 L678.17 547.43 L680.89 547.01 L683.61 546.59 L686.33 546.19 L689.05 545.79 L691.77 545.40 L694.48 545.01 L697.20 544.64 L699.92 544.27 L702.64 543.91 L705.36 543.55 L708.08 543.21 L710.80 542.87 L713.52 542.53 L716.23 542.21 L718.95 541.89 L721.67 541.57 L724.39 541.27 L727.11 540.97 L729.83 540.67 L732.55 540.39 L735.26 540.10 L737.98 539.83 L740.70 539.56 L743.42 539.30 L746.14 539.04 L748.86 538.79 L751.58 538.54 L754.30 538.30 L757.01 538.06 L759.73 537.83 L762.45 537.61 L765.17 537.39 L767.89 537.17 L770.61 536.96 L773.33 536.75 L776.04 536.55 L778.76 536.36 L781.48 536.17 L784.20 535.98 L786.92 535.80 L789.64 535.62 L792.36 535.44 L795.08 535.27 L797.79 535.11 L800.51 534.94 L803.23 534.79 L805.95 534.63 L808.67 534.48 L811.39 534.33 L814.11 534.19 L816.83 534.05 L819.54 533.91 L822.26 533.77 L824.98 533.64 L827.70 533.51 L830.42 533.39 L833.14 533.26 L835.86 533.14 L838.57 533.03 L841.29 532.91 L844.01 532.80 L846.73 532.69 L849.45 532.58 L852.17 532.47 L854.89 532.37 L857.61 532.27 L860.32 532.17 L863.04 532.07 L865.76 531.97 L868.48 531.87 L871.20 531.78 L873.92 531.69 L876.64 531.60 L879.35 531.51 L882.07 531.42 L884.79 531.33 L887.51 531.24 L890.23 531.15 L892.95 531.07 L895.67 530.98 L898.39 530.90 L901.10 530.82 L903.82 530.73 L906.54 530.65 L909.26 530.56 L911.98 530.48 L914.70 530.40 L915.50 530.37" fill="none" stroke="#0000ff" stroke-width="2.4" stroke-linecap="butt" stroke-linejoin="round"/><path d="M670.02 477.46 L672.73 477.92 L675.45 478.38 L678.17 478.82 L680.89 479.26 L683.61 479.70 L686.33 480.12 L689.05 480.55 L691.77 480.96 L694.48 481.37 L697.20 481.77 L699.92 482.16 L702.64 482.55 L705.36 482.93 L708.08 483.31 L710.80 483.68 L713.52 484.04 L716.23 484.40 L718.95 484.76 L721.67 485.10 L724.39 485.44 L727.11 485.78 L729.83 486.11 L732.55 486.44 L735.26 486.76 L737.98 487.07 L740.70 487.38 L743.42 487.69 L746.14 487.99 L748.86 488.28 L751.58 488.57 L754.30 488.86 L757.01 489.14 L759.73 489.42 L762.45 489.69 L765.17 489.96 L767.89 490.22 L770.61 490.48 L773.33 490.74 L776.04 490.99 L778.76 491.23 L781.48 491.48 L784.20 491.72 L786.92 491.95 L789.64 492.19 L792.36 492.41 L795.08 492.64 L797.79 492.86 L800.51 493.08 L803.23 493.30 L805.95 493.51 L808.67 493.72 L811.39 493.93 L814.11 494.13 L816.83 494.33 L819.54 494.53 L822.26 494.72 L824.98 494.92 L827.70 495.11 L830.42 495.30 L833.14 495.48 L835.86 495.66 L838.57 495.85 L841.29 496.03 L844.01 496.20 L846.73 496.38 L849.45 496.55 L852.17 496.72 L854.89 496.89 L857.61 497.06 L860.32 497.23 L863.04 497.40 L865.76 497.56 L868.48 497.72 L871.20 497.89 L873.92 498.05 L876.64 498.21 L879.35 498.37 L882.07 498.53 L884.79 498.68 L887.51 498.84 L890.23 499.00 L892.95 499.15 L895.67 499.31 L898.39 499.46 L901.10 499.62 L903.82 499.77 L906.54 499.93 L909.26 500.08 L911.98 500.24 L914.70 500.39 L915.50 500.44" fill="none" stroke="#000000" stroke-width="2.4" stroke-linecap="butt" stroke-linejoin="round"/><path d="M665.60 624.81h1.9M665.60 617.34h1.9M665.60 609.87h1.9M665.60 602.40h3.3M665.60 594.93h1.9M665.60 587.46h1.9M665.60 579.99h1.9M665.60 572.52h3.3M665.60 565.06h1.9M665.60 557.59h1.9M665.60 550.12h1.9M665.60 542.65h3.3M665.60 535.18h1.9M665.60 527.71h1.9M665.60 520.24h1.9M665.60 512.77h3.3M665.60 505.31h1.9M665.60 497.84h1.9M665.60 490.37h1.9M665.60 482.90h3.3M665.60 475.43h1.9" stroke="#111" stroke-width="0.8" fill="none"/><path d="M670.50 626.70v-1.9M684.10 626.70v-1.9M697.70 626.70v-3.3M711.30 626.70v-1.9M724.90 626.70v-1.9M738.50 626.70v-1.9M752.10 626.70v-3.3M765.70 626.70v-1.9M779.30 626.70v-1.9M792.90 626.70v-1.9M806.50 626.70v-3.3M820.10 626.70v-1.9M833.70 626.70v-1.9M847.30 626.70v-1.9M860.90 626.70v-3.3M874.50 626.70v-1.9M888.10 626.70v-1.9M901.70 626.70v-1.9M915.30 626.70v-3.3" stroke="#444" stroke-width="0.7" fill="none"/><path d="M920.20 617.34h-1.9M920.20 602.40h-3.3M920.20 587.46h-1.9M920.20 572.52h-3.3M920.20 557.59h-1.9M920.20 542.65h-3.3M920.20 527.71h-1.9M920.20 512.77h-3.3M920.20 497.84h-1.9M920.20 482.90h-3.3M670.50 469.70v1.9M684.10 469.70v1.9M697.70 469.70v3.3M711.30 469.70v1.9M724.90 469.70v1.9M738.50 469.70v1.9M752.10 469.70v3.3M765.70 469.70v1.9M779.30 469.70v1.9M792.90 469.70v1.9M806.50 469.70v3.3M820.10 469.70v1.9M833.70 469.70v1.9M847.30 469.70v1.9M860.90 469.70v3.3M874.50 469.70v1.9M888.10 469.70v1.9M901.70 469.70v1.9M915.30 469.70v3.3" stroke="#666" stroke-width="0.6" fill="none"/><rect x="665.60" y="469.70" width="254.60" height="157.00" fill="none" stroke="#555555" stroke-width="1.15"/><text transform="translate(661.60 606.60) scale(0.887 1)" font-size="15" text-anchor="end">0.2</text><text transform="translate(661.60 576.73) scale(0.887 1)" font-size="15" text-anchor="end">0.4</text><text transform="translate(661.60 546.85) scale(0.887 1)" font-size="15" text-anchor="end">0.6</text><text transform="translate(661.60 516.98) scale(0.887 1)" font-size="15" text-anchor="end">0.8</text><text transform="translate(661.60 487.10) scale(0.887 1)" font-size="15" text-anchor="end">1.0</text><text transform="translate(697.80 640.50) scale(0.887 1)" font-size="15" text-anchor="middle">60</text><text transform="translate(752.20 640.50) scale(0.887 1)" font-size="15" text-anchor="middle">80</text><text transform="translate(806.60 640.50) scale(0.887 1)" font-size="15" text-anchor="middle">100</text><text transform="translate(861.00 640.50) scale(0.887 1)" font-size="15" text-anchor="middle">120</text><text transform="translate(915.40 640.50) scale(0.887 1)" font-size="15" text-anchor="middle">140</text></g>
<g><path d="M111.39 783.41 L113.89 781.48 L116.38 779.60 L118.88 777.77 L121.38 775.99 L123.87 774.25 L126.37 772.55 L128.86 770.90 L131.36 769.29 L133.85 767.73 L136.35 766.20 L138.85 764.71 L141.34 763.26 L143.84 761.84 L146.33 760.46 L148.83 759.11 L151.32 757.79 L153.82 756.51 L156.32 755.26 L158.81 754.03 L161.31 752.84 L163.80 751.67 L166.30 750.53 L168.79 749.41 L171.29 748.32 L173.79 747.26 L176.28 746.22 L178.78 745.20 L181.27 744.20 L183.77 743.22 L186.26 742.26 L188.76 741.32 L191.26 740.40 L193.75 739.50 L196.25 738.61 L198.74 737.74 L201.24 736.89 L203.73 736.05 L206.23 735.22 L208.73 734.41 L211.22 733.62 L213.72 732.83 L216.21 732.06 L218.71 731.30 L221.20 730.55 L223.70 729.82 L226.20 729.09 L228.69 728.37 L231.19 727.67 L233.68 726.97 L236.18 726.28 L238.67 725.61 L241.17 724.94 L243.67 724.27 L246.16 723.62 L248.66 722.98 L251.15 722.34 L253.65 721.71 L256.14 721.09 L258.64 720.47 L261.14 719.86 L263.63 719.26 L266.13 718.67 L268.62 718.08 L271.12 717.51 L273.61 716.93 L276.11 716.37 L278.61 715.81 L281.10 715.26 L283.60 714.72 L286.09 714.18 L288.59 713.65 L291.08 713.13 L293.58 712.62 L296.08 712.12 L298.57 711.62 L301.07 711.14 L303.56 710.66 L306.06 710.19 L308.55 709.74 L311.05 709.29 L313.55 708.85 L316.04 708.42 L318.54 708.01 L321.03 707.60 L323.53 707.21 L326.02 706.83 L328.52 706.47 L331.02 706.12 L333.51 705.78 L336.01 705.46 L336.81 705.35" fill="none" stroke="#ff0000" stroke-width="2.3" stroke-linecap="butt" stroke-linejoin="round"/><path d="M111.39 663.76 L113.89 666.47 L116.38 669.11 L118.88 671.68 L121.38 674.19 L123.87 676.63 L126.37 679.01 L128.86 681.34 L131.36 683.60 L133.85 685.81 L136.35 687.97 L138.85 690.07 L141.34 692.12 L143.84 694.12 L146.33 696.08 L148.83 697.98 L151.32 699.84 L153.82 701.65 L156.32 703.43 L158.81 705.16 L161.31 706.85 L163.80 708.50 L166.30 710.11 L168.79 711.68 L171.29 713.23 L173.79 714.73 L176.28 716.21 L178.78 717.65 L181.27 719.06 L183.77 720.44 L186.26 721.79 L188.76 723.12 L191.26 724.41 L193.75 725.69 L196.25 726.93 L198.74 728.16 L201.24 729.36 L203.73 730.53 L206.23 731.69 L208.73 732.83 L211.22 733.95 L213.72 735.04 L216.21 736.13 L218.71 737.19 L221.20 738.23 L223.70 739.27 L226.20 740.28 L228.69 741.28 L231.19 742.27 L233.68 743.24 L236.18 744.20 L238.67 745.15 L241.17 746.08 L243.67 747.00 L246.16 747.92 L248.66 748.82 L251.15 749.71 L253.65 750.59 L256.14 751.46 L258.64 752.32 L261.14 753.18 L263.63 754.02 L266.13 754.86 L268.62 755.68 L271.12 756.50 L273.61 757.31 L276.11 758.12 L278.61 758.91 L281.10 759.70 L283.60 760.48 L286.09 761.25 L288.59 762.02 L291.08 762.77 L293.58 763.52 L296.08 764.27 L298.57 765.00 L301.07 765.73 L303.56 766.44 L306.06 767.15 L308.55 767.85 L311.05 768.54 L313.55 769.23 L316.04 769.90 L318.54 770.56 L321.03 771.22 L323.53 771.86 L326.02 772.50 L328.52 773.12 L331.02 773.73 L333.51 774.33 L336.01 774.91 L336.81 775.10" fill="none" stroke="#00a000" stroke-width="2.3" stroke-linecap="butt" stroke-linejoin="round"/><path d="M111.39 794.15 L113.89 792.08 L116.38 790.05 L118.88 788.06 L121.38 786.11 L123.87 784.19 L126.37 782.31 L128.86 780.47 L131.36 778.66 L133.85 776.88 L136.35 775.14 L138.85 773.43 L141.34 771.75 L143.84 770.10 L146.33 768.48 L148.83 766.89 L151.32 765.32 L153.82 763.79 L156.32 762.28 L158.81 760.80 L161.31 759.34 L163.80 757.91 L166.30 756.50 L168.79 755.12 L171.29 753.75 L173.79 752.42 L176.28 751.10 L178.78 749.80 L181.27 748.53 L183.77 747.27 L186.26 746.03 L188.76 744.81 L191.26 743.61 L193.75 742.43 L196.25 741.27 L198.74 740.12 L201.24 738.99 L203.73 737.87 L206.23 736.77 L208.73 735.68 L211.22 734.61 L213.72 733.55 L216.21 732.51 L218.71 731.48 L221.20 730.46 L223.70 729.45 L226.20 728.46 L228.69 727.48 L231.19 726.51 L233.68 725.55 L236.18 724.60 L238.67 723.66 L241.17 722.73 L243.67 721.81 L246.16 720.90 L248.66 720.00 L251.15 719.11 L253.65 718.23 L256.14 717.36 L258.64 716.50 L261.14 715.64 L263.63 714.80 L266.13 713.96 L268.62 713.13 L271.12 712.30 L273.61 711.49 L276.11 710.68 L278.61 709.88 L281.10 709.09 L283.60 708.30 L286.09 707.52 L288.59 706.75 L291.08 705.99 L293.58 705.23 L296.08 704.48 L298.57 703.74 L301.07 703.01 L303.56 702.28 L306.06 701.56 L308.55 700.85 L311.05 700.14 L313.55 699.44 L316.04 698.75 L318.54 698.07 L321.03 697.40 L323.53 696.73 L326.02 696.07 L328.52 695.42 L331.02 694.78 L333.51 694.15 L336.01 693.52 L336.81 693.32" fill="none" stroke="#0000ff" stroke-width="2.3" stroke-linecap="butt" stroke-linejoin="round"/><path d="M111.39 732.08 L113.89 732.39 L116.38 732.68 L118.88 732.94 L121.38 733.19 L123.87 733.42 L126.37 733.63 L128.86 733.82 L131.36 733.99 L133.85 734.15 L136.35 734.29 L138.85 734.42 L141.34 734.53 L143.84 734.63 L146.33 734.72 L148.83 734.79 L151.32 734.86 L153.82 734.91 L156.32 734.95 L158.81 734.98 L161.31 735.00 L163.80 735.02 L166.30 735.02 L168.79 735.02 L171.29 735.01 L173.79 734.99 L176.28 734.97 L178.78 734.95 L181.27 734.91 L183.77 734.87 L186.26 734.83 L188.76 734.79 L191.26 734.74 L193.75 734.68 L196.25 734.63 L198.74 734.57 L201.24 734.50 L203.73 734.44 L206.23 734.38 L208.73 734.31 L211.22 734.24 L213.72 734.17 L216.21 734.10 L218.71 734.03 L221.20 733.96 L223.70 733.89 L226.20 733.81 L228.69 733.74 L231.19 733.67 L233.68 733.60 L236.18 733.53 L238.67 733.46 L241.17 733.38 L243.67 733.31 L246.16 733.24 L248.66 733.17 L251.15 733.10 L253.65 733.03 L256.14 732.97 L258.64 732.90 L261.14 732.83 L263.63 732.76 L266.13 732.69 L268.62 732.62 L271.12 732.55 L273.61 732.48 L276.11 732.41 L278.61 732.34 L281.10 732.27 L283.60 732.20 L286.09 732.12 L288.59 732.04 L291.08 731.96 L293.58 731.88 L296.08 731.80 L298.57 731.71 L301.07 731.62 L303.56 731.52 L306.06 731.43 L308.55 731.32 L311.05 731.22 L313.55 731.10 L316.04 730.98 L318.54 730.86 L321.03 730.73 L323.53 730.59 L326.02 730.44 L328.52 730.28 L331.02 730.12 L333.51 729.95 L336.01 729.76 L336.81 729.71" fill="none" stroke="#000000" stroke-width="2.3" stroke-linecap="butt" stroke-linejoin="round"/><path d="M106.90 793.91h1.9M106.90 786.41h1.9M106.90 778.90h3.3M106.90 771.39h1.9M106.90 763.89h1.9M106.90 756.38h1.9M106.90 748.87h1.9M106.90 741.37h3.3M106.90 733.86h1.9M106.90 726.35h1.9M106.90 718.85h1.9M106.90 711.34h1.9M106.90 703.83h3.3M106.90 696.33h1.9M106.90 688.82h1.9M106.90 681.31h1.9M106.90 673.81h1.9M106.90 666.30h3.3M106.90 658.79h1.9" stroke="#111" stroke-width="0.8" fill="none"/><path d="M111.39 800.90v-1.9M123.87 800.90v-1.9M136.35 800.90v-3.3M148.83 800.90v-1.9M161.31 800.90v-1.9M173.79 800.90v-1.9M186.26 800.90v-3.3M198.74 800.90v-1.9M211.22 800.90v-1.9M223.70 800.90v-1.9M236.18 800.90v-3.3M248.66 800.90v-1.9M261.14 800.90v-1.9M273.61 800.90v-1.9M286.09 800.90v-3.3M298.57 800.90v-1.9M311.05 800.90v-1.9M323.53 800.90v-1.9M336.01 800.90v-3.3" stroke="#444" stroke-width="0.7" fill="none"/><path d="M340.50 797.67h-1.9M340.50 778.90h-3.3M340.50 760.13h-1.9M340.50 741.37h-3.3M340.50 722.60h-1.9M340.50 703.83h-3.3M340.50 685.07h-1.9M340.50 666.30h-3.3M111.39 656.60v1.9M123.87 656.60v1.9M136.35 656.60v3.3M148.83 656.60v1.9M161.31 656.60v1.9M173.79 656.60v1.9M186.26 656.60v3.3M198.74 656.60v1.9M211.22 656.60v1.9M223.70 656.60v1.9M236.18 656.60v3.3M248.66 656.60v1.9M261.14 656.60v1.9M273.61 656.60v1.9M286.09 656.60v3.3M298.57 656.60v1.9M311.05 656.60v1.9M323.53 656.60v1.9M336.01 656.60v3.3" stroke="#666" stroke-width="0.6" fill="none"/><rect x="106.90" y="656.60" width="233.60" height="144.30" fill="none" stroke="#555555" stroke-width="1.15"/><text transform="translate(102.90 783.10) scale(0.887 1)" font-size="15" text-anchor="end">0.0105</text><text transform="translate(102.90 745.57) scale(0.887 1)" font-size="15" text-anchor="end">0.0110</text><text transform="translate(102.90 708.03) scale(0.887 1)" font-size="15" text-anchor="end">0.0115</text><text transform="translate(102.90 670.50) scale(0.887 1)" font-size="15" text-anchor="end">0.0120</text><text transform="translate(136.45 814.70) scale(0.887 1)" font-size="15" text-anchor="middle">60</text><text transform="translate(186.36 814.70) scale(0.887 1)" font-size="15" text-anchor="middle">80</text><text transform="translate(236.28 814.70) scale(0.887 1)" font-size="15" text-anchor="middle">100</text><text transform="translate(286.19 814.70) scale(0.887 1)" font-size="15" text-anchor="middle">120</text><text transform="translate(336.11 814.70) scale(0.887 1)" font-size="15" text-anchor="middle">140</text></g>
<g><path d="M400.99 772.73 L403.49 771.61 L405.99 770.53 L408.48 769.48 L410.98 768.46 L413.48 767.46 L415.98 766.50 L418.47 765.56 L420.97 764.64 L423.47 763.75 L425.96 762.89 L428.46 762.05 L430.96 761.23 L433.45 760.44 L435.95 759.66 L438.45 758.91 L440.94 758.18 L443.44 757.47 L445.94 756.78 L448.43 756.10 L450.93 755.45 L453.43 754.81 L455.92 754.19 L458.42 753.58 L460.92 752.99 L463.41 752.42 L465.91 751.86 L468.41 751.32 L470.90 750.79 L473.40 750.27 L475.90 749.77 L478.39 749.28 L480.89 748.80 L483.39 748.33 L485.89 747.87 L488.38 747.43 L490.88 746.99 L493.38 746.57 L495.87 746.15 L498.37 745.75 L500.87 745.35 L503.36 744.97 L505.86 744.59 L508.36 744.22 L510.85 743.85 L513.35 743.50 L515.85 743.15 L518.34 742.81 L520.84 742.48 L523.34 742.15 L525.83 741.83 L528.33 741.51 L530.83 741.21 L533.32 740.90 L535.82 740.61 L538.32 740.32 L540.81 740.03 L543.31 739.75 L545.81 739.48 L548.31 739.21 L550.80 738.95 L553.30 738.69 L555.80 738.44 L558.29 738.19 L560.79 737.95 L563.29 737.71 L565.78 737.48 L568.28 737.25 L570.78 737.03 L573.27 736.81 L575.77 736.60 L578.27 736.39 L580.76 736.19 L583.26 736.00 L585.76 735.81 L588.25 735.62 L590.75 735.44 L593.25 735.27 L595.74 735.10 L598.24 734.94 L600.74 734.79 L603.23 734.64 L605.73 734.50 L608.23 734.37 L610.73 734.24 L613.22 734.12 L615.72 734.01 L618.22 733.91 L620.71 733.81 L623.21 733.73 L625.71 733.65 L626.51 733.63" fill="none" stroke="#ff0000" stroke-width="2.3" stroke-linecap="butt" stroke-linejoin="round"/><path d="M400.99 663.73 L403.49 667.01 L405.99 670.21 L408.48 673.32 L410.98 676.34 L413.48 679.28 L415.98 682.14 L418.47 684.92 L420.97 687.62 L423.47 690.26 L425.96 692.82 L428.46 695.31 L430.96 697.74 L433.45 700.10 L435.95 702.41 L438.45 704.65 L440.94 706.83 L443.44 708.97 L445.94 711.04 L448.43 713.07 L450.93 715.05 L453.43 716.97 L455.92 718.86 L458.42 720.70 L460.92 722.49 L463.41 724.25 L465.91 725.97 L468.41 727.65 L470.90 729.29 L473.40 730.90 L475.90 732.48 L478.39 734.03 L480.89 735.54 L483.39 737.03 L485.89 738.49 L488.38 739.92 L490.88 741.33 L493.38 742.71 L495.87 744.07 L498.37 745.41 L500.87 746.73 L503.36 748.02 L505.86 749.30 L508.36 750.56 L510.85 751.80 L513.35 753.02 L515.85 754.23 L518.34 755.43 L520.84 756.60 L523.34 757.77 L525.83 758.92 L528.33 760.05 L530.83 761.18 L533.32 762.29 L535.82 763.38 L538.32 764.47 L540.81 765.54 L543.31 766.61 L545.81 767.66 L548.31 768.70 L550.80 769.72 L553.30 770.74 L555.80 771.75 L558.29 772.74 L560.79 773.72 L563.29 774.69 L565.78 775.65 L568.28 776.60 L570.78 777.53 L573.27 778.45 L575.77 779.35 L578.27 780.25 L580.76 781.12 L583.26 781.99 L585.76 782.83 L588.25 783.66 L590.75 784.48 L593.25 785.27 L595.74 786.05 L598.24 786.81 L600.74 787.54 L603.23 788.26 L605.73 788.95 L608.23 789.62 L610.73 790.27 L613.22 790.89 L615.72 791.48 L618.22 792.05 L620.71 792.59 L623.21 793.09 L625.71 793.57 L626.51 793.72" fill="none" stroke="#00a000" stroke-width="2.3" stroke-linecap="butt" stroke-linejoin="round"/><path d="M400.99 792.40 L403.49 790.56 L405.99 788.77 L408.48 787.02 L410.98 785.32 L413.48 783.66 L415.98 782.05 L418.47 780.48 L420.97 778.95 L423.47 777.46 L425.96 776.00 L428.46 774.58 L430.96 773.20 L433.45 771.85 L435.95 770.54 L438.45 769.26 L440.94 768.01 L443.44 766.78 L445.94 765.59 L448.43 764.43 L450.93 763.29 L453.43 762.18 L455.92 761.09 L458.42 760.03 L460.92 758.99 L463.41 757.98 L465.91 756.98 L468.41 756.01 L470.90 755.05 L473.40 754.12 L475.90 753.20 L478.39 752.31 L480.89 751.42 L483.39 750.56 L485.89 749.71 L488.38 748.88 L490.88 748.06 L493.38 747.25 L495.87 746.46 L498.37 745.68 L500.87 744.91 L503.36 744.16 L505.86 743.41 L508.36 742.68 L510.85 741.95 L513.35 741.24 L515.85 740.54 L518.34 739.84 L520.84 739.16 L523.34 738.48 L525.83 737.81 L528.33 737.15 L530.83 736.50 L533.32 735.85 L535.82 735.22 L538.32 734.59 L540.81 733.96 L543.31 733.35 L545.81 732.74 L548.31 732.14 L550.80 731.54 L553.30 730.95 L555.80 730.37 L558.29 729.79 L560.79 729.23 L563.29 728.66 L565.78 728.11 L568.28 727.56 L570.78 727.02 L573.27 726.49 L575.77 725.96 L578.27 725.44 L580.76 724.93 L583.26 724.43 L585.76 723.94 L588.25 723.45 L590.75 722.98 L593.25 722.51 L595.74 722.06 L598.24 721.61 L600.74 721.17 L603.23 720.75 L605.73 720.34 L608.23 719.93 L610.73 719.54 L613.22 719.17 L615.72 718.81 L618.22 718.46 L620.71 718.12 L623.21 717.81 L625.71 717.50 L626.51 717.41" fill="none" stroke="#0000ff" stroke-width="2.3" stroke-linecap="butt" stroke-linejoin="round"/><path d="M400.99 718.36 L403.49 719.39 L405.99 720.38 L408.48 721.35 L410.98 722.30 L413.48 723.23 L415.98 724.13 L418.47 725.02 L420.97 725.88 L423.47 726.72 L425.96 727.54 L428.46 728.35 L430.96 729.13 L433.45 729.90 L435.95 730.65 L438.45 731.38 L440.94 732.10 L443.44 732.80 L445.94 733.48 L448.43 734.15 L450.93 734.81 L453.43 735.45 L455.92 736.08 L458.42 736.70 L460.92 737.30 L463.41 737.89 L465.91 738.47 L468.41 739.04 L470.90 739.60 L473.40 740.15 L475.90 740.69 L478.39 741.21 L480.89 741.73 L483.39 742.24 L485.89 742.74 L488.38 743.23 L490.88 743.72 L493.38 744.19 L495.87 744.66 L498.37 745.12 L500.87 745.57 L503.36 746.01 L505.86 746.45 L508.36 746.88 L510.85 747.31 L513.35 747.72 L515.85 748.14 L518.34 748.54 L520.84 748.94 L523.34 749.33 L525.83 749.72 L528.33 750.10 L530.83 750.48 L533.32 750.85 L535.82 751.21 L538.32 751.57 L540.81 751.92 L543.31 752.27 L545.81 752.61 L548.31 752.95 L550.80 753.28 L553.30 753.60 L555.80 753.92 L558.29 754.24 L560.79 754.54 L563.29 754.84 L565.78 755.14 L568.28 755.43 L570.78 755.71 L573.27 755.99 L575.77 756.25 L578.27 756.52 L580.76 756.77 L583.26 757.02 L585.76 757.26 L588.25 757.49 L590.75 757.72 L593.25 757.93 L595.74 758.14 L598.24 758.34 L600.74 758.53 L603.23 758.71 L605.73 758.88 L608.23 759.04 L610.73 759.19 L613.22 759.33 L615.72 759.45 L618.22 759.57 L620.71 759.68 L623.21 759.77 L625.71 759.85 L626.51 759.87" fill="none" stroke="#000000" stroke-width="2.3" stroke-linecap="butt" stroke-linejoin="round"/><path d="M396.50 798.20h1.9M396.50 792.97h1.9M396.50 787.75h1.9M396.50 782.52h1.9M396.50 777.30h3.3M396.50 772.07h1.9M396.50 766.85h1.9M396.50 761.62h1.9M396.50 756.40h1.9M396.50 751.17h3.3M396.50 745.95h1.9M396.50 740.73h1.9M396.50 735.50h1.9M396.50 730.27h1.9M396.50 725.05h3.3M396.50 719.82h1.9M396.50 714.60h1.9M396.50 709.38h1.9M396.50 704.15h1.9M396.50 698.92h3.3M396.50 693.70h1.9M396.50 688.47h1.9M396.50 683.25h1.9M396.50 678.02h1.9M396.50 672.80h3.3M396.50 667.57h1.9M396.50 662.35h1.9M396.50 657.12h1.9" stroke="#111" stroke-width="0.8" fill="none"/><path d="M400.99 801.10v-1.9M413.48 801.10v-1.9M425.96 801.10v-3.3M438.45 801.10v-1.9M450.93 801.10v-1.9M463.41 801.10v-1.9M475.90 801.10v-3.3M488.38 801.10v-1.9M500.87 801.10v-1.9M513.35 801.10v-1.9M525.83 801.10v-3.3M538.32 801.10v-1.9M550.80 801.10v-1.9M563.29 801.10v-1.9M575.77 801.10v-3.3M588.25 801.10v-1.9M600.74 801.10v-1.9M613.22 801.10v-1.9M625.71 801.10v-3.3" stroke="#444" stroke-width="0.7" fill="none"/><path d="M630.20 790.36h-1.9M630.20 777.30h-3.3M630.20 764.24h-1.9M630.20 751.18h-3.3M630.20 738.11h-1.9M630.20 725.05h-3.3M630.20 711.99h-1.9M630.20 698.92h-3.3M630.20 685.86h-1.9M630.20 672.80h-3.3M630.20 659.74h-1.9M400.99 656.60v1.9M413.48 656.60v1.9M425.96 656.60v3.3M438.45 656.60v1.9M450.93 656.60v1.9M463.41 656.60v1.9M475.90 656.60v3.3M488.38 656.60v1.9M500.87 656.60v1.9M513.35 656.60v1.9M525.83 656.60v3.3M538.32 656.60v1.9M550.80 656.60v1.9M563.29 656.60v1.9M575.77 656.60v3.3M588.25 656.60v1.9M600.74 656.60v1.9M613.22 656.60v1.9M625.71 656.60v3.3" stroke="#666" stroke-width="0.6" fill="none"/><rect x="396.50" y="656.60" width="233.70" height="144.50" fill="none" stroke="#555555" stroke-width="1.15"/><text transform="translate(392.50 781.50) scale(0.887 1)" font-size="15" text-anchor="end">0.0105</text><text transform="translate(392.50 755.38) scale(0.887 1)" font-size="15" text-anchor="end">0.0110</text><text transform="translate(392.50 729.25) scale(0.887 1)" font-size="15" text-anchor="end">0.0115</text><text transform="translate(392.50 703.12) scale(0.887 1)" font-size="15" text-anchor="end">0.0120</text><text transform="translate(392.50 677.00) scale(0.887 1)" font-size="15" text-anchor="end">0.0125</text><text transform="translate(426.06 814.90) scale(0.887 1)" font-size="15" text-anchor="middle">60</text><text transform="translate(476.00 814.90) scale(0.887 1)" font-size="15" text-anchor="middle">80</text><text transform="translate(525.93 814.90) scale(0.887 1)" font-size="15" text-anchor="middle">100</text><text transform="translate(575.87 814.90) scale(0.887 1)" font-size="15" text-anchor="middle">120</text><text transform="translate(625.81 814.90) scale(0.887 1)" font-size="15" text-anchor="middle">140</text></g>
<g><path d="M684.12 761.05 L686.68 760.28 L689.24 759.53 L691.81 758.80 L694.37 758.10 L696.94 757.43 L699.50 756.77 L702.06 756.14 L704.63 755.52 L707.19 754.93 L709.76 754.36 L712.32 753.81 L714.88 753.28 L717.45 752.76 L720.01 752.27 L722.58 751.79 L725.14 751.33 L727.71 750.88 L730.27 750.46 L732.83 750.05 L735.40 749.65 L737.96 749.27 L740.53 748.90 L743.09 748.55 L745.65 748.21 L748.22 747.88 L750.78 747.57 L753.35 747.27 L755.91 746.98 L758.47 746.70 L761.04 746.44 L763.60 746.18 L766.17 745.94 L768.73 745.70 L771.29 745.48 L773.86 745.27 L776.42 745.06 L778.99 744.86 L781.55 744.67 L784.12 744.49 L786.68 744.32 L789.24 744.16 L791.81 744.00 L794.37 743.85 L796.94 743.71 L799.50 743.57 L802.06 743.44 L804.63 743.32 L807.19 743.20 L809.76 743.08 L812.32 742.98 L814.88 742.87 L817.45 742.78 L820.01 742.68 L822.58 742.59 L825.14 742.51 L827.71 742.43 L830.27 742.35 L832.83 742.28 L835.40 742.21 L837.96 742.15 L840.53 742.09 L843.09 742.03 L845.65 741.97 L848.22 741.92 L850.78 741.87 L853.35 741.82 L855.91 741.78 L858.47 741.74 L861.04 741.70 L863.60 741.66 L866.17 741.62 L868.73 741.59 L871.29 741.56 L873.86 741.53 L876.42 741.51 L878.99 741.49 L881.55 741.46 L884.12 741.45 L886.68 741.43 L889.24 741.41 L891.81 741.40 L894.37 741.39 L896.94 741.38 L899.50 741.37 L902.06 741.37 L904.63 741.37 L907.19 741.37 L909.76 741.37 L912.32 741.38 L914.88 741.38 L915.68 741.39" fill="none" stroke="#ff0000" stroke-width="2.3" stroke-linecap="butt" stroke-linejoin="round"/><path d="M684.12 660.80 L686.68 663.71 L689.24 666.56 L691.81 669.37 L694.37 672.14 L696.94 674.86 L699.50 677.54 L702.06 680.17 L704.63 682.76 L707.19 685.31 L709.76 687.81 L712.32 690.27 L714.88 692.70 L717.45 695.08 L720.01 697.42 L722.58 699.72 L725.14 701.98 L727.71 704.20 L730.27 706.38 L732.83 708.52 L735.40 710.63 L737.96 712.70 L740.53 714.73 L743.09 716.73 L745.65 718.69 L748.22 720.62 L750.78 722.51 L753.35 724.37 L755.91 726.19 L758.47 727.98 L761.04 729.74 L763.60 731.47 L766.17 733.16 L768.73 734.82 L771.29 736.45 L773.86 738.05 L776.42 739.62 L778.99 741.16 L781.55 742.68 L784.12 744.16 L786.68 745.62 L789.24 747.05 L791.81 748.45 L794.37 749.82 L796.94 751.17 L799.50 752.49 L802.06 753.79 L804.63 755.07 L807.19 756.32 L809.76 757.54 L812.32 758.75 L814.88 759.93 L817.45 761.09 L820.01 762.22 L822.58 763.34 L825.14 764.44 L827.71 765.51 L830.27 766.57 L832.83 767.60 L835.40 768.62 L837.96 769.62 L840.53 770.60 L843.09 771.57 L845.65 772.52 L848.22 773.45 L850.78 774.37 L853.35 775.27 L855.91 776.16 L858.47 777.03 L861.04 777.89 L863.60 778.74 L866.17 779.57 L868.73 780.39 L871.29 781.20 L873.86 782.00 L876.42 782.79 L878.99 783.57 L881.55 784.34 L884.12 785.10 L886.68 785.85 L889.24 786.59 L891.81 787.33 L894.37 788.06 L896.94 788.78 L899.50 789.50 L902.06 790.21 L904.63 790.91 L907.19 791.61 L909.76 792.31 L912.32 793.01 L914.88 793.70 L915.68 793.91" fill="none" stroke="#00a000" stroke-width="2.3" stroke-linecap="butt" stroke-linejoin="round"/><path d="M684.12 795.77 L686.68 793.80 L689.24 791.86 L691.81 789.98 L694.37 788.14 L696.94 786.34 L699.50 784.58 L702.06 782.87 L704.63 781.20 L707.19 779.56 L709.76 777.97 L712.32 776.41 L714.88 774.90 L717.45 773.41 L720.01 771.96 L722.58 770.55 L725.14 769.17 L727.71 767.82 L730.27 766.51 L732.83 765.22 L735.40 763.97 L737.96 762.74 L740.53 761.54 L743.09 760.38 L745.65 759.23 L748.22 758.12 L750.78 757.03 L753.35 755.96 L755.91 754.92 L758.47 753.90 L761.04 752.91 L763.60 751.93 L766.17 750.98 L768.73 750.05 L771.29 749.14 L773.86 748.25 L776.42 747.38 L778.99 746.52 L781.55 745.69 L784.12 744.87 L786.68 744.07 L789.24 743.28 L791.81 742.52 L794.37 741.76 L796.94 741.02 L799.50 740.30 L802.06 739.59 L804.63 738.89 L807.19 738.20 L809.76 737.53 L812.32 736.87 L814.88 736.23 L817.45 735.59 L820.01 734.97 L822.58 734.35 L825.14 733.75 L827.71 733.16 L830.27 732.57 L832.83 732.00 L835.40 731.43 L837.96 730.88 L840.53 730.33 L843.09 729.80 L845.65 729.27 L848.22 728.74 L850.78 728.23 L853.35 727.73 L855.91 727.23 L858.47 726.74 L861.04 726.26 L863.60 725.78 L866.17 725.31 L868.73 724.85 L871.29 724.40 L873.86 723.95 L876.42 723.51 L878.99 723.08 L881.55 722.65 L884.12 722.23 L886.68 721.82 L889.24 721.42 L891.81 721.02 L894.37 720.63 L896.94 720.24 L899.50 719.87 L902.06 719.50 L904.63 719.13 L907.19 718.78 L909.76 718.43 L912.32 718.09 L914.88 717.76 L915.68 717.66" fill="none" stroke="#0000ff" stroke-width="2.3" stroke-linecap="butt" stroke-linejoin="round"/><path d="M684.12 702.14 L686.68 703.64 L689.24 705.12 L691.81 706.56 L694.37 707.98 L696.94 709.37 L699.50 710.74 L702.06 712.07 L704.63 713.39 L707.19 714.67 L709.76 715.94 L712.32 717.18 L714.88 718.39 L717.45 719.58 L720.01 720.75 L722.58 721.90 L725.14 723.03 L727.71 724.13 L730.27 725.22 L732.83 726.29 L735.40 727.33 L737.96 728.36 L740.53 729.36 L743.09 730.35 L745.65 731.33 L748.22 732.28 L750.78 733.22 L753.35 734.14 L755.91 735.04 L758.47 735.93 L761.04 736.80 L763.60 737.66 L766.17 738.50 L768.73 739.33 L771.29 740.14 L773.86 740.94 L776.42 741.72 L778.99 742.50 L781.55 743.26 L784.12 744.00 L786.68 744.74 L789.24 745.46 L791.81 746.17 L794.37 746.86 L796.94 747.55 L799.50 748.22 L802.06 748.89 L804.63 749.54 L807.19 750.18 L809.76 750.81 L812.32 751.44 L814.88 752.05 L817.45 752.65 L820.01 753.24 L822.58 753.82 L825.14 754.39 L827.71 754.95 L830.27 755.51 L832.83 756.05 L835.40 756.58 L837.96 757.11 L840.53 757.63 L843.09 758.13 L845.65 758.63 L848.22 759.12 L850.78 759.60 L853.35 760.07 L855.91 760.54 L858.47 760.99 L861.04 761.44 L863.60 761.87 L866.17 762.30 L868.73 762.72 L871.29 763.13 L873.86 763.53 L876.42 763.93 L878.99 764.31 L881.55 764.69 L884.12 765.05 L886.68 765.41 L889.24 765.75 L891.81 766.09 L894.37 766.42 L896.94 766.74 L899.50 767.05 L902.06 767.35 L904.63 767.63 L907.19 767.91 L909.76 768.18 L912.32 768.44 L914.88 768.68 L915.68 768.76" fill="none" stroke="#000000" stroke-width="2.3" stroke-linecap="butt" stroke-linejoin="round"/><path d="M679.50 801.17h1.9M679.50 793.73h1.9M679.50 786.30h3.3M679.50 778.87h1.9M679.50 771.43h1.9M679.50 764.00h1.9M679.50 756.57h1.9M679.50 749.13h3.3M679.50 741.70h1.9M679.50 734.27h1.9M679.50 726.83h1.9M679.50 719.40h1.9M679.50 711.97h3.3M679.50 704.53h1.9M679.50 697.10h1.9M679.50 689.67h1.9M679.50 682.23h1.9M679.50 674.80h3.3M679.50 667.37h1.9M679.50 659.93h1.9" stroke="#111" stroke-width="0.8" fill="none"/><path d="M684.12 802.10v-1.9M696.94 802.10v-1.9M709.76 802.10v-3.3M722.58 802.10v-1.9M735.40 802.10v-1.9M748.22 802.10v-1.9M761.04 802.10v-3.3M773.86 802.10v-1.9M786.68 802.10v-1.9M799.50 802.10v-1.9M812.32 802.10v-3.3M825.14 802.10v-1.9M837.96 802.10v-1.9M850.78 802.10v-1.9M863.60 802.10v-3.3M876.42 802.10v-1.9M889.24 802.10v-1.9M902.06 802.10v-1.9M914.88 802.10v-3.3" stroke="#444" stroke-width="0.7" fill="none"/><path d="M919.50 786.30h-3.3M919.50 767.72h-1.9M919.50 749.13h-3.3M919.50 730.55h-1.9M919.50 711.97h-3.3M919.50 693.38h-1.9M919.50 674.80h-3.3M919.50 656.22h-1.9M684.12 654.10v1.9M696.94 654.10v1.9M709.76 654.10v3.3M722.58 654.10v1.9M735.40 654.10v1.9M748.22 654.10v1.9M761.04 654.10v3.3M773.86 654.10v1.9M786.68 654.10v1.9M799.50 654.10v1.9M812.32 654.10v3.3M825.14 654.10v1.9M837.96 654.10v1.9M850.78 654.10v1.9M863.60 654.10v3.3M876.42 654.10v1.9M889.24 654.10v1.9M902.06 654.10v1.9M914.88 654.10v3.3" stroke="#666" stroke-width="0.6" fill="none"/><rect x="679.50" y="654.10" width="240.00" height="148.00" fill="none" stroke="#555555" stroke-width="1.15"/><text transform="translate(675.50 790.50) scale(0.887 1)" font-size="15" text-anchor="end">0.010</text><text transform="translate(675.50 753.33) scale(0.887 1)" font-size="15" text-anchor="end">0.011</text><text transform="translate(675.50 716.17) scale(0.887 1)" font-size="15" text-anchor="end">0.012</text><text transform="translate(675.50 679.00) scale(0.887 1)" font-size="15" text-anchor="end">0.013</text><text transform="translate(709.86 815.90) scale(0.887 1)" font-size="15" text-anchor="middle">60</text><text transform="translate(761.14 815.90) scale(0.887 1)" font-size="15" text-anchor="middle">80</text><text transform="translate(812.42 815.90) scale(0.887 1)" font-size="15" text-anchor="middle">100</text><text transform="translate(863.70 815.90) scale(0.887 1)" font-size="15" text-anchor="middle">120</text><text transform="translate(914.98 815.90) scale(0.887 1)" font-size="15" text-anchor="middle">140</text></g>
<text x="402.3" y="12.5" font-size="16.5" textLength="122.3" lengthAdjust="spacingAndGlyphs">Butenschoen et al.</text>
<rect x="249.4" y="20.6" width="427.9" height="34.6" fill="#fff" stroke="#000" stroke-width="1.1"/>
<path d="M254.4 40.5h39.5" stroke="#00a000" stroke-width="2.3"/><text x="306.4" y="36.9" font-size="8.8" font-weight="bold">1</text><text x="313.1" y="42.8" font-size="15.6" font-weight="bold" font-style="italic" textLength="8.5" lengthAdjust="spacingAndGlyphs">S</text><text x="321.4" y="45.9" font-size="8.8" font-weight="bold" font-style="normal" textLength="4.8" lengthAdjust="spacingAndGlyphs">0</text><text x="322.8" y="35.9" font-size="9.4" font-weight="bold" textLength="9.8" lengthAdjust="spacingAndGlyphs">[8]</text>
<path d="M365.4 40.5h39.5" stroke="#ff0000" stroke-width="2.3"/><text x="417.4" y="36.9" font-size="8.8" font-weight="bold">3</text><text x="424.1" y="42.8" font-size="15.6" font-weight="bold" font-style="italic" textLength="8.5" lengthAdjust="spacingAndGlyphs">S</text><text x="432.4" y="45.9" font-size="8.8" font-weight="bold" font-style="normal" textLength="4.8" lengthAdjust="spacingAndGlyphs">1</text><text x="433.8" y="35.9" font-size="9.4" font-weight="bold" textLength="9.8" lengthAdjust="spacingAndGlyphs">[8]</text>
<path d="M476.4 40.5h39.5" stroke="#0000ff" stroke-width="2.3"/><text x="528.4" y="36.9" font-size="8.8" font-weight="bold">3</text><text x="535.4" y="42.8" font-size="15.6" font-weight="bold" font-style="italic" textLength="10.2" lengthAdjust="spacingAndGlyphs">P</text><text x="544.6" y="45.9" font-size="8.8" font-weight="bold" font-style="italic" textLength="5.2" lengthAdjust="spacingAndGlyphs">J</text><text x="547.2" y="35.9" font-size="9.4" font-weight="bold" textLength="9.8" lengthAdjust="spacingAndGlyphs">[8]</text>
<path d="M589.3 40.5h39.5" stroke="#000000" stroke-width="2.3"/><text x="641.3" y="36.9" font-size="8.8" font-weight="bold">3</text><text x="648.0" y="42.8" font-size="15.6" font-weight="bold" font-style="italic" textLength="8.5" lengthAdjust="spacingAndGlyphs">S</text><text x="656.3" y="45.9" font-size="8.8" font-weight="bold" font-style="normal" textLength="4.8" lengthAdjust="spacingAndGlyphs">1</text><text x="657.7" y="35.9" font-size="9.4" font-weight="bold" textLength="9.8" lengthAdjust="spacingAndGlyphs">[1]</text>
<text x="171.2" y="82.1" font-size="21" font-weight="bold" font-style="italic" textLength="10.4" lengthAdjust="spacingAndGlyphs">z</text>
<path d="M188.5 73.4h16.2M188.5 79.1h16.2" stroke="#000" stroke-width="1.3"/>
<text x="211.0" y="82.1" font-size="19.6" font-weight="bold" textLength="28.2" lengthAdjust="spacingAndGlyphs">0.4</text>
<text x="183.0" y="838.3" font-size="14.2" font-weight="bold" font-style="italic" textLength="10.2" lengthAdjust="spacingAndGlyphs">E</text>
<text x="193.8" y="838.3" font-size="14.2" font-weight="bold" textLength="39.2" lengthAdjust="spacingAndGlyphs">(GeV)</text>
<text x="460.6" y="82.1" font-size="21" font-weight="bold" font-style="italic" textLength="10.4" lengthAdjust="spacingAndGlyphs">z</text>
<path d="M477.9 73.4h16.2M477.9 79.1h16.2" stroke="#000" stroke-width="1.3"/>
<text x="500.4" y="82.1" font-size="19.6" font-weight="bold" textLength="28.2" lengthAdjust="spacingAndGlyphs">0.5</text>
<text x="472.3" y="838.3" font-size="14.2" font-weight="bold" font-style="italic" textLength="10.2" lengthAdjust="spacingAndGlyphs">E</text>
<text x="483.1" y="838.3" font-size="14.2" font-weight="bold" textLength="39.2" lengthAdjust="spacingAndGlyphs">(GeV)</text>
<text x="750.0" y="82.1" font-size="21" font-weight="bold" font-style="italic" textLength="10.4" lengthAdjust="spacingAndGlyphs">z</text>
<path d="M767.3 73.4h16.2M767.3 79.1h16.2" stroke="#000" stroke-width="1.3"/>
<text x="789.8" y="82.1" font-size="19.6" font-weight="bold" textLength="28.2" lengthAdjust="spacingAndGlyphs">0.6</text>
<text x="761.6" y="838.3" font-size="14.2" font-weight="bold" font-style="italic" textLength="10.2" lengthAdjust="spacingAndGlyphs">E</text>
<text x="772.4" y="838.3" font-size="14.2" font-weight="bold" textLength="39.2" lengthAdjust="spacingAndGlyphs">(GeV)</text>
<g transform="translate(13.20 231.40) rotate(-90)"><text x="0.00" y="0.00" font-size="16.50"  textLength="93.90" lengthAdjust="spacingAndGlyphs">Unnormalized</text></g>
<g transform="translate(42.40 246.40) rotate(-90)"><path d="M0.00 0H36.40" stroke="#444" stroke-width="0.85"/><text x="7.10" y="-6.20" font-size="14.40" font-weight="bold" font-style="italic" textLength="7.50" lengthAdjust="spacingAndGlyphs">d</text><text x="15.10" y="-6.20" font-size="14.40" font-weight="bold" font-style="italic" textLength="9.00" lengthAdjust="spacingAndGlyphs">σ</text><text x="25.50" y="-4.20" font-size="8.60" font-weight="bold" font-style="italic" textLength="2.80" lengthAdjust="spacingAndGlyphs">i</text><text x="1.00" y="13.60" font-size="14.40" font-weight="bold" font-style="italic" textLength="34.00" lengthAdjust="spacingAndGlyphs">dEdz</text><text x="36.60" y="4.00" font-size="15.00" font-weight="bold" textLength="6.00" lengthAdjust="spacingAndGlyphs">(</text><text x="43.40" y="4.00" font-size="15.00" font-weight="bold" textLength="15.40" lengthAdjust="spacingAndGlyphs">10</text><text x="60.20" y="-2.40" font-size="9.40" font-weight="bold" textLength="11.80" lengthAdjust="spacingAndGlyphs">−4</text><text x="73.40" y="4.00" font-size="15.00" font-weight="bold" textLength="30.00" lengthAdjust="spacingAndGlyphs">GeV</text><text x="104.80" y="-2.40" font-size="9.40" font-weight="bold" textLength="11.60" lengthAdjust="spacingAndGlyphs">−3</text><text x="115.80" y="4.00" font-size="15.00" font-weight="bold" textLength="6.00" lengthAdjust="spacingAndGlyphs">)</text></g>
<g transform="translate(13.20 402.20) rotate(-90)"><text x="0.00" y="0.00" font-size="16.50"  textLength="66.20" lengthAdjust="spacingAndGlyphs">Unit Area</text></g>
<g transform="translate(40.10 397.40) rotate(-90)"><path d="M0.00 0H13.60" stroke="#444" stroke-width="0.85"/><path d="M16.20 0H52.00" stroke="#444" stroke-width="0.85"/><text x="1.80" y="-6.20" font-size="14.20" stroke="#000" stroke-width="0.3">1</text><text x="0.70" y="13.70" font-size="14.40" font-weight="bold" font-style="italic" textLength="9.00" lengthAdjust="spacingAndGlyphs">σ</text><text x="11.10" y="15.70" font-size="8.60" font-weight="bold" font-style="italic" textLength="2.80" lengthAdjust="spacingAndGlyphs">i</text><text x="20.50" y="-5.90" font-size="14.40" font-weight="bold" font-style="italic" textLength="7.50" lengthAdjust="spacingAndGlyphs">d</text><text x="28.50" y="-5.90" font-size="14.40" font-weight="bold" font-style="italic" textLength="9.00" lengthAdjust="spacingAndGlyphs">σ</text><text x="38.90" y="-3.90" font-size="8.60" font-weight="bold" font-style="italic" textLength="2.80" lengthAdjust="spacingAndGlyphs">i</text><text x="16.40" y="13.80" font-size="14.40" font-weight="bold" font-style="italic" textLength="34.00" lengthAdjust="spacingAndGlyphs">dEdz</text></g>
<g transform="translate(13.20 590.90) rotate(-90)"><text x="0.00" y="0.00" font-size="16.50"  textLength="78.20" lengthAdjust="spacingAndGlyphs">Normalized</text></g>
<g transform="translate(41.70 570.90) rotate(-90)"><path d="M0.00 0H36.10" stroke="#444" stroke-width="0.85"/><text x="7.70" y="-5.90" font-size="14.40" font-weight="bold" font-style="italic" textLength="7.50" lengthAdjust="spacingAndGlyphs">d</text><text x="15.70" y="-5.90" font-size="14.40" font-weight="bold" font-style="italic" textLength="9.00" lengthAdjust="spacingAndGlyphs">σ</text><text x="26.10" y="-3.90" font-size="8.60" font-weight="bold" font-style="italic" textLength="2.80" lengthAdjust="spacingAndGlyphs">i</text><path d="M17.30 -14.00c1.2 -1.5 2.2 -1.5 3.2 -0.7s2.0 0.8 3.2 -0.7" stroke="#000" stroke-width="1.0" fill="none"/><text x="1.20" y="13.80" font-size="14.40" font-weight="bold" font-style="italic" textLength="34.00" lengthAdjust="spacingAndGlyphs">dEdz</text></g>
<g transform="translate(13.20 764.90) rotate(-90)"><text x="0.00" y="0.00" font-size="16.50"  textLength="66.20" lengthAdjust="spacingAndGlyphs">Unit Area</text></g>
<g transform="translate(40.10 760.50) rotate(-90)"><path d="M0.00 0H13.60" stroke="#444" stroke-width="0.85"/><path d="M16.20 0H52.00" stroke="#444" stroke-width="0.85"/><text x="1.80" y="-6.20" font-size="14.20" stroke="#000" stroke-width="0.3">1</text><text x="0.70" y="13.70" font-size="14.40" font-weight="bold" font-style="italic" textLength="9.00" lengthAdjust="spacingAndGlyphs">σ</text><text x="11.10" y="15.70" font-size="8.60" font-weight="bold" font-style="italic" textLength="2.80" lengthAdjust="spacingAndGlyphs">i</text><path d="M2.30 5.60c1.2 -1.5 2.2 -1.5 3.2 -0.7s2.0 0.8 3.2 -0.7" stroke="#000" stroke-width="1.0" fill="none"/><text x="20.50" y="-5.90" font-size="14.40" font-weight="bold" font-style="italic" textLength="7.50" lengthAdjust="spacingAndGlyphs">d</text><text x="28.50" y="-5.90" font-size="14.40" font-weight="bold" font-style="italic" textLength="9.00" lengthAdjust="spacingAndGlyphs">σ</text><text x="38.90" y="-3.90" font-size="8.60" font-weight="bold" font-style="italic" textLength="2.80" lengthAdjust="spacingAndGlyphs">i</text><path d="M30.10 -14.00c1.2 -1.5 2.2 -1.5 3.2 -0.7s2.0 0.8 3.2 -0.7" stroke="#000" stroke-width="1.0" fill="none"/><text x="16.40" y="13.80" font-size="14.40" font-weight="bold" font-style="italic" textLength="34.00" lengthAdjust="spacingAndGlyphs">dEdz</text></g>
</svg></body></html>
